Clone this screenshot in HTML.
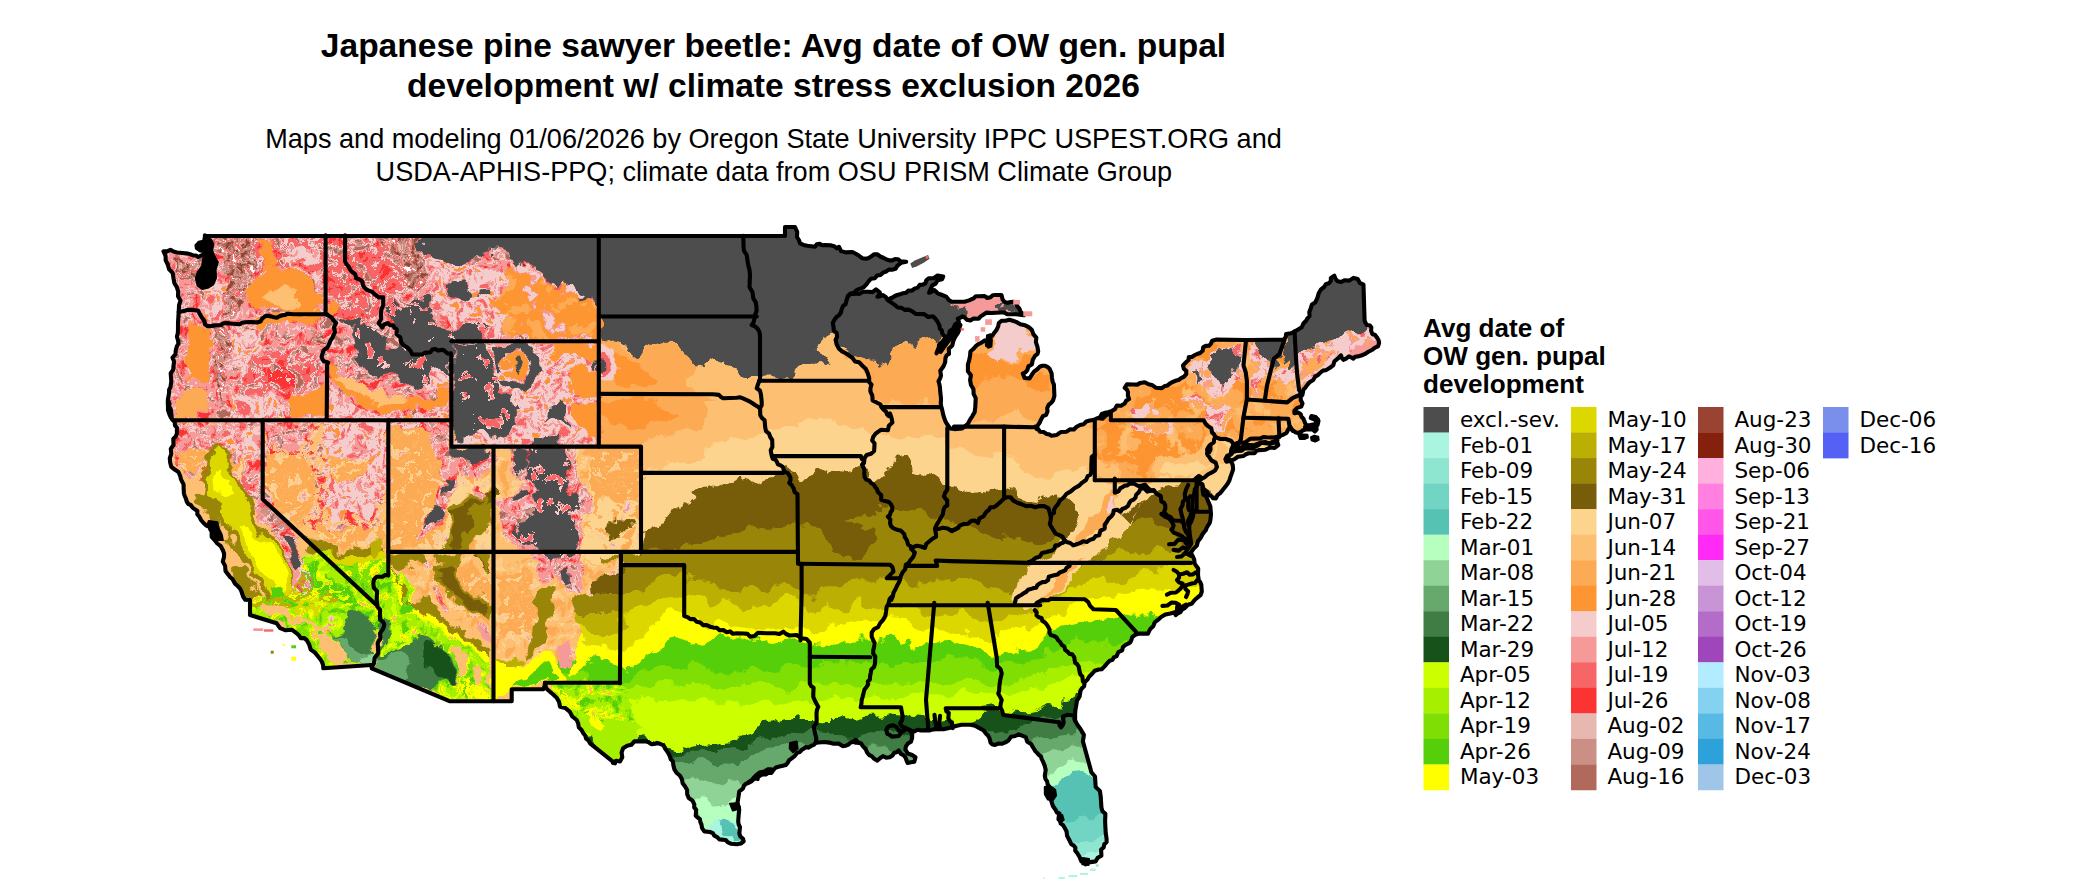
<!DOCTYPE html>
<html><head><meta charset="utf-8"><title>Japanese pine sawyer beetle map</title>
<style>
html,body{margin:0;padding:0;background:#fff;}
body{width:2100px;height:892px;overflow:hidden;position:relative;font-family:"Liberation Sans",sans-serif;}
svg{position:absolute;left:0;top:0;display:block}
.t1{font:bold 33.55px "Liberation Sans",sans-serif;fill:#000;text-anchor:middle}
.t2{font:27.1px "Liberation Sans",sans-serif;fill:#000;text-anchor:middle}
.lt{font:bold 26.1px "Liberation Sans",sans-serif;fill:#000}
.lb{font:21.5px "DejaVu Sans",sans-serif;fill:#000}
</style></head><body>
<svg width="2100" height="892" viewBox="0 0 2100 892">
<defs><clipPath id="us"><path d="M205.0,236.0 L785.0,236.0 L785.0,227.0 L795.0,227.0 L796.0,229.4 L797.2,231.8 L797.0,237.0 L798.9,240.0 L800.0,243.3 L803.5,244.9 L807.3,245.7 L815.0,246.7 L816.8,244.3 L819.7,243.9 L822.2,245.3 L825.0,245.0 L831.2,245.4 L834.3,246.2 L836.7,248.3 L839.0,246.8 L841.1,251.1 L845.7,252.4 L852.4,252.0 L855.8,253.8 L859.1,255.8 L862.1,258.2 L865.9,258.7 L868.8,257.9 L871.4,256.3 L873.9,254.4 L877.1,254.2 L880.2,256.5 L883.8,258.0 L886.5,259.3 L889.2,260.4 L892.3,260.4 L895.0,259.1 L898.1,259.2 L900.4,261.3 L906.2,261.8 L901.3,262.8 L899.2,264.2 L897.3,265.9 L895.5,268.8 L892.1,269.7 L888.8,269.6 L886.1,271.5 L883.0,272.7 L880.5,275.0 L877.1,275.6 L874.8,278.2 L871.0,278.7 L868.4,281.6 L866.3,284.6 L863.6,287.2 L861.0,288.4 L858.3,289.4 L855.6,290.9 L854.7,293.9 L850.9,293.9 L847.9,296.1 L850.0,293.8 L853.1,293.0 L859.1,293.9 L863.4,291.7 L868.1,291.7 L872.5,292.1 L876.0,289.4 L879.8,292.3 L878.8,294.6 L877.5,296.8 L880.2,296.2 L882.7,295.0 L885.7,297.0 L887.8,300.0 L890.1,298.5 L892.6,297.5 L894.8,296.0 L897.3,295.0 L900.2,294.3 L903.0,293.2 L906.2,292.8 L908.5,290.5 L911.9,290.7 L914.5,288.6 L917.7,287.6 L919.7,284.9 L922.7,284.6 L925.5,283.3 L926.3,280.3 L928.7,278.2 L933.6,278.3 L937.6,275.5 L943.2,276.4 L942.1,279.3 L937.8,280.2 L935.4,283.8 L932.3,285.3 L930.9,288.3 L929.1,292.8 L931.8,291.6 L934.3,290.1 L937.7,293.3 L942.1,295.0 L946.1,296.6 L948.8,300.0 L951.9,301.8 L955.6,301.7 L964.5,301.7 L969.1,300.4 L973.5,298.4 L975.8,296.3 L978.9,296.2 L984.7,296.1 L987.3,298.0 L990.5,297.3 L992.8,295.2 L995.9,295.0 L1001.5,295.0 L1002.6,299.5 L1004.4,301.8 L1007.1,302.9 L1010.4,302.0 L1013.9,301.7 L1016.2,303.5 L1017.2,306.2 L1019.4,308.7 L1020.6,311.8 L1023.9,315.2 L1016.1,314.3 L1007.1,314.1 L1004.0,312.5 L1000.4,312.5 L991.4,313.0 L986.6,312.6 L982.5,315.2 L980.4,316.7 L978.7,318.7 L973.5,318.6 L970.4,320.5 L966.8,319.7 L964.9,317.6 L962.3,316.3 L960.2,317.8 L957.8,318.6 L958.9,321.9 L955.0,324.4 L953.3,328.7 L949.7,331.1 L948.8,335.4 L945.5,337.6 L943.8,339.9 L942.1,342.1 L939.0,344.7 L938.7,348.8 L938.0,351.3 L936.5,353.3 L938.1,348.9 L942.1,346.6 L945.8,343.5 L948.8,339.9 L950.2,335.3 L954.4,333.1 L956.4,330.0 L959.6,328.2 L958.9,330.7 L957.8,333.1 L955.2,336.8 L953.3,341.0 L952.3,345.6 L948.8,348.8 L949.0,354.0 L946.6,355.3 L945.5,357.8 L945.1,362.5 L943.2,366.8 L940.3,370.8 L941.0,375.7 L940.0,378.6 L938.5,381.1 L939.3,384.0 L939.9,387.0 L940.3,392.6 L941.0,398.2 L940.8,403.8 L941.2,406.7 L942.1,409.4 L943.0,413.9 L944.3,418.3 L945.7,421.9 L947.7,425.1 L950.3,428.4 L954.4,429.1 L962.3,428.4 L965.1,426.2 L967.9,423.9 L969.9,419.9 L972.4,416.1 L974.7,411.9 L975.3,407.1 L975.7,398.2 L973.6,393.9 L973.5,389.2 L971.0,385.0 L970.1,380.2 L970.9,375.3 L969.4,373.2 L967.9,371.3 L967.9,364.5 L969.2,360.1 L970.1,355.6 L970.4,351.5 L973.5,348.8 L975.6,346.4 L978.0,344.3 L981.5,342.6 L984.7,340.3 L986.9,342.4 L987.0,345.5 L989.6,344.8 L990.1,337.6 L992.1,335.8 L993.7,333.6 L996.3,330.3 L998.2,326.4 L998.8,323.0 L1001.5,320.8 L1005.5,320.7 L1009.4,319.7 L1012.8,320.7 L1016.1,321.9 L1020.3,324.3 L1025.1,325.3 L1028.7,327.1 L1031.8,329.8 L1033.3,334.1 L1036.3,337.6 L1035.9,342.2 L1037.4,346.6 L1038.2,351.5 L1037.4,354.1 L1035.2,355.6 L1032.8,359.8 L1031.8,364.5 L1028.4,366.4 L1027.3,370.1 L1025.4,372.3 L1022.8,373.5 L1024.6,378.0 L1029.6,378.4 L1031.7,375.0 L1034.0,371.7 L1037.0,369.5 L1039.6,366.8 L1042.4,365.8 L1045.2,365.7 L1047.7,367.1 L1049.7,369.0 L1051.6,373.3 L1052.0,378.0 L1052.6,381.4 L1053.9,384.6 L1054.2,391.4 L1054.4,396.0 L1053.1,400.4 L1051.1,402.9 L1048.6,404.9 L1047.2,408.1 L1047.5,411.6 L1046.2,414.8 L1043.0,416.1 L1041.1,419.4 L1039.6,422.8 L1037.5,425.7 L1036.7,429.1 L1035.0,426.7 L1037.9,428.7 L1040.0,431.7 L1043.6,432.0 L1046.7,434.0 L1049.3,434.4 L1051.5,435.8 L1056.7,435.0 L1058.9,433.3 L1061.2,432.0 L1066.7,431.7 L1069.9,429.3 L1073.9,429.5 L1076.6,426.8 L1080.0,425.0 L1083.7,424.2 L1086.3,421.5 L1089.8,420.6 L1093.3,420.0 L1097.7,418.0 L1102.5,418.7 L1105.9,415.5 L1110.0,413.3 L1107.2,413.0 L1104.8,414.5 L1102.4,415.8 L1100.0,417.0 L1101.8,414.0 L1104.9,412.8 L1108.1,412.2 L1111.2,411.3 L1114.8,409.2 L1116.9,405.6 L1121.1,405.7 L1124.7,403.5 L1126.3,400.6 L1129.1,399.0 L1127.9,395.8 L1128.0,392.3 L1127.0,389.6 L1124.7,387.8 L1126.9,384.4 L1133.7,384.5 L1137.3,384.6 L1140.4,382.9 L1144.7,382.2 L1148.5,384.3 L1152.6,385.3 L1156.1,387.8 L1161.9,388.1 L1164.3,386.3 L1167.3,385.6 L1169.7,383.6 L1172.5,382.0 L1175.4,380.8 L1178.5,380.0 L1181.1,378.1 L1184.1,376.6 L1186.2,374.2 L1186.3,371.0 L1183.8,368.7 L1183.0,365.4 L1186.3,362.0 L1188.6,360.0 L1188.8,357.0 L1191.8,357.0 L1194.2,355.3 L1197.1,354.0 L1200.1,353.0 L1202.7,350.8 L1203.1,347.4 L1205.8,345.9 L1208.9,345.8 L1211.0,343.6 L1212.1,340.7 L1216.6,339.6 L1245.7,340.0 L1283.9,339.6 L1285.8,337.1 L1286.1,334.0 L1290.8,333.3 L1295.1,331.3 L1298.5,329.3 L1301.8,327.3 L1303.4,323.5 L1306.3,320.5 L1307.6,318.1 L1309.6,316.1 L1309.3,312.0 L1310.8,308.2 L1311.9,304.6 L1315.2,302.6 L1317.3,298.2 L1318.6,293.6 L1320.8,289.7 L1324.2,286.9 L1325.8,284.2 L1328.8,283.3 L1330.8,281.0 L1330.9,277.9 L1334.3,275.7 L1335.5,278.8 L1337.7,281.3 L1341.2,282.0 L1344.4,280.2 L1349.3,280.6 L1353.4,277.9 L1357.8,279.1 L1359.7,282.8 L1363.5,284.7 L1364.1,304.8 L1364.6,320.5 L1365.5,322.9 L1366.8,325.0 L1369.5,325.2 L1371.3,327.3 L1371.1,330.7 L1372.4,334.0 L1375.1,335.0 L1376.9,337.4 L1378.5,340.0 L1379.1,343.0 L1378.0,346.3 L1375.0,347.6 L1372.4,349.7 L1368.4,351.8 L1364.6,354.2 L1361.3,355.5 L1357.8,356.4 L1355.2,356.7 L1353.4,358.7 L1351.2,357.3 L1348.9,356.4 L1346.3,358.5 L1343.3,359.8 L1341.7,357.8 L1341.0,355.3 L1337.7,358.7 L1334.4,361.3 L1333.2,365.4 L1329.9,367.7 L1326.5,369.9 L1322.7,370.7 L1319.7,373.2 L1317.7,375.2 L1315.2,376.6 L1313.2,380.1 L1309.6,382.2 L1307.3,384.9 L1305.2,387.8 L1303.4,389.7 L1302.9,392.3 L1302.4,394.9 L1300.7,396.8 L1300.7,399.9 L1302.5,403.5 L1301.2,406.6 L1297.1,407.9 L1294.4,410.6 L1294.4,413.3 L1298.0,412.4 L1300.7,414.2 L1301.5,416.8 L1303.4,418.7 L1305.2,423.2 L1306.5,425.4 L1309.7,425.2 L1314.2,424.3 L1317.3,422.1 L1318.0,419.6 L1315.1,417.1 L1311.7,416.6 L1310.8,418.0 L1314.2,419.3 L1316.2,421.1 L1316.0,425.9 L1316.7,429.3 L1314.9,431.4 L1312.7,429.5 L1309.7,429.5 L1306.1,429.2 L1302.5,430.5 L1300.7,432.2 L1298.0,433.0 L1295.3,432.2 L1291.7,429.5 L1290.0,427.0 L1288.2,429.5 L1286.4,433.0 L1282.8,434.8 L1278.3,436.6 L1273.8,437.5 L1266.6,437.3 L1263.3,437.0 L1260.4,438.4 L1254.1,438.6 L1250.1,438.8 L1246.9,441.1 L1244.0,443.0 L1240.6,442.2 L1237.0,443.1 L1233.2,445.4 L1231.3,449.5 L1230.7,454.1 L1227.1,457.0 L1230.7,460.4 L1232.7,464.8 L1233.1,469.4 L1231.6,473.8 L1230.4,477.1 L1229.4,480.5 L1227.4,484.1 L1224.9,487.3 L1222.7,490.1 L1220.4,492.9 L1217.5,495.1 L1215.9,498.5 L1213.2,498.3 L1211.4,496.2 L1208.3,494.9 L1207.0,491.7 L1203.6,489.1 L1202.5,485.0 L1200.0,483.3 L1199.1,480.5 L1200.0,483.2 L1202.5,484.4 L1202.5,489.5 L1203.3,494.7 L1205.8,495.9 L1207.0,498.5 L1208.6,502.4 L1210.3,506.3 L1211.0,514.2 L1210.4,520.0 L1209.7,522.9 L1208.1,525.4 L1206.7,527.7 L1205.9,530.2 L1204.0,532.2 L1202.5,534.3 L1200.6,538.0 L1198.0,541.1 L1196.8,545.6 L1193.5,548.9 L1190.8,552.7 L1192.6,555.9 L1194.2,559.5 L1194.6,563.5 L1196.3,566.1 L1198.2,568.5 L1198.0,574.7 L1198.7,580.1 L1200.3,582.3 L1201.3,584.8 L1201.8,591.5 L1200.7,594.9 L1198.0,597.1 L1194.6,600.0 L1191.9,603.5 L1187.6,605.0 L1184.5,608.3 L1182.0,609.7 L1180.4,612.2 L1177.8,613.4 L1175.6,615.1 L1177.7,612.0 L1180.5,609.5 L1183.3,607.0 L1186.1,604.5 L1182.2,606.7 L1179.4,610.1 L1175.0,612.1 L1170.4,613.5 L1165.6,614.4 L1161.4,616.8 L1158.2,619.7 L1154.7,622.4 L1153.2,626.3 L1150.2,629.1 L1149.0,631.4 L1148.0,633.6 L1139.0,633.6 L1135.4,634.7 L1132.3,637.0 L1131.5,639.7 L1130.4,642.2 L1128.1,643.7 L1125.6,644.8 L1122.9,647.1 L1122.2,650.4 L1118.3,652.2 L1116.6,656.1 L1113.9,657.3 L1112.5,659.9 L1109.7,660.7 L1107.6,662.8 L1105.8,665.0 L1103.8,667.1 L1101.7,669.2 L1098.7,669.5 L1094.7,670.8 L1091.9,674.0 L1089.3,676.5 L1087.4,679.6 L1084.6,682.4 L1084.1,686.3 L1082.0,688.3 L1080.5,690.8 L1079.6,696.4 L1077.0,700.6 L1076.2,705.4 L1075.4,709.8 L1075.1,714.3 L1075.1,721.1 L1074.3,718.6 L1077.0,724.1 L1080.6,729.2 L1083.9,734.9 L1082.9,741.4 L1090.0,767.1 L1091.4,772.4 L1095.0,776.5 L1095.7,787.1 L1099.9,790.9 L1100.7,796.5 L1101.4,807.1 L1102.3,811.1 L1105.4,813.7 L1105.1,821.4 L1105.7,832.9 L1106.6,838.8 L1106.6,842.0 L1104.3,844.3 L1103.6,847.5 L1101.1,849.6 L1101.4,855.7 L1097.7,857.7 L1095.7,861.4 L1090.5,862.1 L1087.8,862.5 L1085.7,864.3 L1084.1,862.0 L1081.4,861.4 L1079.6,857.0 L1077.1,852.9 L1075.2,850.7 L1075.4,847.8 L1073.8,845.6 L1071.4,844.3 L1069.3,840.0 L1067.1,835.7 L1066.5,831.2 L1064.3,827.1 L1062.9,825.0 L1060.7,823.6 L1060.0,818.6 L1059.5,813.5 L1056.9,812.5 L1055.7,810.0 L1052.9,806.0 L1051.4,801.4 L1050.2,797.1 L1048.6,792.9 L1049.5,786.9 L1047.7,784.5 L1047.1,781.4 L1045.4,778.9 L1044.8,775.9 L1045.7,770.0 L1044.7,765.6 L1042.9,761.4 L1041.7,759.1 L1041.0,756.5 L1038.8,754.9 L1037.1,752.9 L1035.3,751.1 L1033.9,748.8 L1032.5,746.6 L1031.4,744.3 L1027.3,741.8 L1025.7,737.1 L1022.1,735.7 L1018.6,734.3 L1015.2,736.0 L1011.0,736.8 L1008.5,740.4 L1005.3,742.4 L1001.8,743.8 L998.3,743.6 L995.1,744.9 L992.5,744.5 L990.6,742.7 L989.5,738.2 L988.2,735.7 L986.1,733.7 L983.4,730.2 L979.4,728.1 L975.1,725.7 L970.4,724.8 L961.4,724.8 L956.9,725.8 L952.5,727.0 L948.0,728.2 L943.5,729.2 L936.8,729.2 L933.3,729.4 L930.0,730.4 L921.1,730.4 L917.5,729.7 L914.3,731.5 L909.9,730.4 L912.2,733.9 L912.1,738.2 L910.9,741.8 L907.6,743.8 L905.9,746.4 L905.4,749.4 L907.7,753.5 L912.1,755.0 L915.5,757.3 L914.3,761.7 L911.0,762.3 L907.6,762.9 L906.4,760.1 L905.4,757.3 L903.5,755.2 L900.9,753.9 L898.7,750.5 L896.7,752.3 L894.2,752.8 L892.4,755.5 L889.7,757.3 L886.2,757.6 L883.0,756.1 L880.0,758.2 L877.4,760.6 L874.2,758.8 L871.7,756.1 L869.1,755.0 L867.3,752.8 L865.6,749.0 L862.8,746.1 L861.2,743.5 L858.3,742.7 L855.4,742.6 L852.7,741.6 L850.1,742.8 L848.2,744.9 L845.4,745.7 L842.6,746.1 L838.5,743.5 L833.6,743.8 L829.2,742.6 L824.7,742.0 L815.7,742.7 L813.8,744.9 L811.2,745.9 L808.7,747.7 L805.7,747.1 L803.7,748.8 L801.5,750.1 L799.7,752.1 L797.1,752.9 L794.6,756.1 L791.4,758.6 L789.1,760.2 L787.7,762.8 L785.7,765.0 L782.9,765.7 L779.4,766.6 L776.0,767.4 L773.5,769.9 L771.4,772.9 L768.4,772.8 L765.8,774.4 L762.7,774.3 L760.0,775.7 L757.8,777.1 L755.6,778.4 L753.2,779.5 L751.4,781.4 L748.8,782.8 L746.0,783.7 L743.9,785.8 L742.9,788.6 L739.3,791.3 L738.6,795.7 L738.0,800.0 L737.1,804.3 L738.8,806.8 L739.2,809.8 L738.6,815.7 L738.2,821.6 L738.7,824.5 L740.0,827.1 L739.3,833.4 L740.3,836.5 L742.9,838.6 L743.7,841.4 L740.8,843.6 L737.1,844.3 L730.8,843.7 L727.9,842.4 L725.7,840.0 L719.4,839.4 L717.2,837.1 L714.3,835.7 L712.8,833.1 L710.0,832.0 L704.3,831.4 L702.1,828.2 L701.4,824.3 L700.3,821.8 L699.9,819.1 L697.7,817.5 L695.7,815.7 L696.2,809.9 L694.2,807.4 L694.3,804.3 L692.4,800.4 L688.7,798.1 L687.2,794.2 L687.1,790.0 L685.1,786.5 L682.7,783.3 L681.9,779.3 L680.0,775.7 L676.8,773.0 L674.5,769.6 L673.4,765.5 L672.9,761.4 L670.8,759.3 L669.9,756.5 L668.7,753.8 L667.1,751.4 L665.1,748.6 L663.6,745.5 L660.4,744.0 L657.1,742.9 L654.3,744.0 L651.2,744.1 L648.6,742.3 L645.7,741.4 L634.3,741.4 L631.4,744.8 L627.1,745.7 L623.1,748.2 L621.6,752.7 L622.3,757.3 L620.0,761.4 L616.2,760.8 L612.9,762.9 L615.0,763.3 L590.0,743.3 L588.6,740.6 L586.1,738.7 L585.3,735.7 L583.3,733.3 L581.5,729.9 L578.8,727.3 L578.2,723.5 L576.7,720.0 L572.3,716.5 L569.7,711.6 L565.4,708.1 L560.0,706.7 L559.1,702.1 L556.8,697.9 L553.5,694.7 L550.0,691.7 L548.0,689.9 L546.0,688.0 L545.0,682.7 L544.6,686.1 L543.3,689.3 L511.7,689.3 L511.7,701.3 L491.7,701.3 L450.0,701.3 L371.7,668.3 L371.7,665.0 L323.3,668.3 L323.1,665.1 L322.0,662.0 L320.3,659.2 L318.3,656.7 L315.0,652.6 L310.7,649.6 L309.2,644.6 L306.7,640.0 L304.0,638.0 L300.7,638.1 L299.0,635.4 L296.7,633.3 L291.8,629.7 L285.7,630.3 L280.1,628.2 L276.7,623.3 L250.0,615.0 L250.0,600.0 L245.3,599.8 L243.1,596.5 L241.9,592.8 L240.9,590.1 L239.4,587.7 L237.4,585.7 L235.2,583.9 L233.7,581.4 L232.4,578.9 L230.1,577.2 L228.5,574.9 L225.5,570.9 L225.1,565.9 L222.8,561.6 L224.0,557.0 L224.1,553.5 L222.9,550.2 L220.8,546.2 L217.3,543.5 L214.6,540.0 L211.7,536.8 L211.6,531.5 L210.2,529.2 L209.4,526.7 L206.3,525.6 L203.8,523.3 L201.2,520.2 L199.3,516.6 L197.3,514.2 L197.4,511.0 L195.0,509.3 L192.6,507.6 L190.9,505.2 L188.2,503.9 L186.7,501.4 L185.9,498.7 L184.7,496.0 L183.9,493.2 L183.6,487.4 L183.6,484.4 L182.2,481.8 L180.9,479.1 L180.3,476.2 L178.5,472.0 L174.7,469.5 L171.3,466.9 L170.2,462.8 L169.8,458.2 L171.3,453.8 L170.8,448.9 L173.5,444.8 L173.3,438.7 L175.7,436.6 L176.9,433.6 L176.9,427.8 L175.0,425.4 L174.7,422.4 L171.8,418.4 L171.3,413.5 L170.9,409.9 L169.1,406.8 L169.5,403.3 L167.9,400.0 L168.0,410.4 L169.8,415.3 L172.4,419.8 L170.7,417.2 L169.5,414.4 L170.2,408.3 L167.8,404.2 L167.9,399.4 L168.6,396.0 L169.1,392.6 L169.1,389.7 L170.5,387.1 L171.3,381.4 L170.7,373.3 L173.1,369.9 L173.5,365.7 L174.1,361.5 L172.5,357.6 L175.4,354.4 L175.8,350.0 L176.8,346.6 L178.5,343.5 L177.9,340.0 L176.9,336.6 L177.8,333.3 L178.0,329.9 L178.0,323.1 L178.7,311.9 L179.1,305.2 L180.5,300.5 L178.0,296.2 L178.2,291.7 L176.9,287.3 L174.4,283.1 L173.5,278.3 L172.7,273.1 L170.9,271.2 L169.1,269.3 L167.8,264.7 L165.7,260.4 L165.5,255.7 L163.5,251.4 L167.1,251.4 L170.4,249.8 L173.4,251.6 L176.9,252.5 L182.5,253.0 L188.1,253.6 L190.7,254.4 L193.1,255.4 L195.9,255.5 L198.2,257.0 L201.6,255.4 L204.9,253.6 L204.9,235.2ZM1225.4,459.1 L1227.2,455.7 L1230.8,454.6 L1233.0,452.1 L1236.1,451.0 L1241.8,450.6 L1244.0,448.7 L1246.9,448.3 L1252.7,448.7 L1254.9,446.6 L1257.7,445.6 L1260.0,443.8 L1262.6,442.3 L1265.7,442.0 L1268.4,443.4 L1277.4,442.5 L1278.3,445.2 L1274.7,448.0 L1270.2,447.4 L1267.7,448.7 L1265.1,449.8 L1259.5,450.1 L1256.5,450.8 L1254.5,453.1 L1248.7,453.2 L1245.9,454.2 L1243.6,456.0 L1237.9,456.8 L1234.2,459.4 L1229.9,460.9 L1226.3,461.7ZM1237.0,442.9 L1246.9,441.1 L1260.4,438.4 L1277.4,437.5 L1278.3,443.8 L1257.7,448.3 L1237.9,454.6 L1230.8,459.1 L1229.0,456.4Z"/></clipPath>
<filter id="rough" x="100" y="200" width="1350" height="692" filterUnits="userSpaceOnUse" color-interpolation-filters="sRGB">
<feTurbulence type="fractalNoise" baseFrequency="0.045" numOctaves="4" seed="7" result="n"/>
<feDisplacementMap in="SourceGraphic" in2="n" scale="22" xChannelSelector="R" yChannelSelector="G"/>
</filter>
<filter id="texnw" x="100" y="200" width="560" height="430" filterUnits="userSpaceOnUse" color-interpolation-filters="sRGB">
<feTurbulence type="fractalNoise" baseFrequency="0.11" numOctaves="4" seed="11" result="t"/>
<feColorMatrix in="t" type="matrix" values="1 0 0 0 0  1 0 0 0 0  1 0 0 0 0  1 0 0 0 0" result="m"/>
<feComponentTransfer in="m" result="c"><feFuncR type="discrete" tableValues="0.988 0.988 0.988 0.988 0.988 0.988 0.988 0.988 0.988 0.988 0.988 0.988 0.969 0.969 0.969 0.969 0.000 0.000 0.000 0.000 0.000 0.000 0.957 0.957 0.957 0.961 0.796 0.796 0.796 0.694 0.694 0.694 0.694 0.694 0.694 0.694 0.694 0.694 0.694 0.694"/><feFuncG type="discrete" tableValues="0.200 0.200 0.200 0.200 0.200 0.200 0.200 0.200 0.200 0.200 0.200 0.200 0.400 0.400 0.400 0.400 0.000 0.000 0.000 0.000 0.000 0.000 0.800 0.800 0.800 0.600 0.561 0.561 0.561 0.412 0.412 0.412 0.412 0.412 0.412 0.412 0.412 0.412 0.412 0.412"/><feFuncB type="discrete" tableValues="0.200 0.200 0.200 0.200 0.200 0.200 0.200 0.200 0.200 0.200 0.200 0.200 0.400 0.400 0.400 0.400 0.000 0.000 0.000 0.000 0.000 0.000 0.800 0.800 0.800 0.600 0.522 0.522 0.522 0.357 0.357 0.357 0.357 0.357 0.357 0.357 0.357 0.357 0.357 0.357"/><feFuncA type="discrete" tableValues="1.000 1.000 1.000 1.000 1.000 1.000 1.000 1.000 1.000 1.000 1.000 1.000 1.000 1.000 1.000 1.000 0.000 0.000 0.000 0.000 0.000 0.000 1.000 1.000 1.000 1.000 1.000 1.000 1.000 1.000 1.000 1.000 1.000 1.000 1.000 1.000 1.000 1.000 1.000 1.000"/></feComponentTransfer>
<feComposite in="c" in2="SourceGraphic" operator="in"/>
</filter><filter id="texsw" x="150" y="400" width="500" height="320" filterUnits="userSpaceOnUse" color-interpolation-filters="sRGB">
<feTurbulence type="fractalNoise" baseFrequency="0.09" numOctaves="4" seed="5" result="t"/>
<feColorMatrix in="t" type="matrix" values="1 0 0 0 0  1 0 0 0 0  1 0 0 0 0  1 0 0 0 0" result="m"/>
<feComponentTransfer in="m" result="c"><feFuncR type="discrete" tableValues="0.992 0.992 0.992 0.992 0.992 0.992 0.992 0.992 0.992 0.992 0.992 0.992 0.992 0.992 0.992 0.992 0.000 0.000 0.000 0.000 0.000 0.000 0.000 0.000 0.992 0.992 0.992 0.992 0.992 0.992 0.957 0.957 0.961 0.961 0.961 0.961 0.961 0.961 0.961 0.961"/><feFuncG type="discrete" tableValues="0.667 0.667 0.667 0.667 0.667 0.667 0.667 0.667 0.667 0.667 0.667 0.667 0.667 0.667 0.706 0.706 0.000 0.000 0.000 0.000 0.000 0.000 0.000 0.000 0.831 0.831 0.831 0.788 0.788 0.788 0.800 0.800 0.600 0.600 0.600 0.600 0.600 0.600 0.600 0.600"/><feFuncB type="discrete" tableValues="0.333 0.333 0.333 0.333 0.333 0.333 0.333 0.333 0.333 0.333 0.333 0.333 0.333 0.333 0.388 0.388 0.000 0.000 0.000 0.000 0.000 0.000 0.000 0.000 0.557 0.557 0.557 0.533 0.533 0.533 0.800 0.800 0.600 0.600 0.600 0.600 0.600 0.600 0.600 0.600"/><feFuncA type="discrete" tableValues="1.000 1.000 1.000 1.000 1.000 1.000 1.000 1.000 1.000 1.000 1.000 1.000 1.000 1.000 1.000 1.000 0.000 0.000 0.000 0.000 0.000 0.000 0.000 0.000 1.000 1.000 1.000 1.000 1.000 1.000 1.000 1.000 1.000 1.000 1.000 1.000 1.000 1.000 1.000 1.000"/></feComponentTransfer>
<feComposite in="c" in2="SourceGraphic" operator="in"/>
</filter><filter id="texgr" x="150" y="400" width="500" height="320" filterUnits="userSpaceOnUse" color-interpolation-filters="sRGB">
<feTurbulence type="fractalNoise" baseFrequency="0.1" numOctaves="4" seed="9" result="t"/>
<feColorMatrix in="t" type="matrix" values="1 0 0 0 0  1 0 0 0 0  1 0 0 0 0  1 0 0 0 0" result="m"/>
<feComponentTransfer in="m" result="c"><feFuncR type="discrete" tableValues="0.333 0.333 0.333 0.333 0.333 0.333 0.333 0.333 0.333 0.333 0.333 0.333 0.333 0.498 0.498 0.498 0.000 0.000 0.000 0.000 0.000 0.000 0.000 0.800 0.800 0.800 1.000 1.000 0.867 0.867 0.992 0.992 0.992 0.992 0.992 0.992 0.992 0.992 0.992 0.992"/><feFuncG type="discrete" tableValues="0.812 0.812 0.812 0.812 0.812 0.812 0.812 0.812 0.812 0.812 0.812 0.812 0.812 0.875 0.875 0.875 0.000 0.000 0.000 0.000 0.000 0.000 0.000 1.000 1.000 1.000 1.000 1.000 0.843 0.843 0.749 0.749 0.749 0.749 0.749 0.749 0.749 0.749 0.749 0.749"/><feFuncB type="discrete" tableValues="0.039 0.039 0.039 0.039 0.039 0.039 0.039 0.039 0.039 0.039 0.039 0.039 0.039 0.020 0.020 0.020 0.000 0.000 0.000 0.000 0.000 0.000 0.000 0.000 0.000 0.000 0.000 0.000 0.000 0.000 0.447 0.447 0.447 0.447 0.447 0.447 0.447 0.447 0.447 0.447"/><feFuncA type="discrete" tableValues="1.000 1.000 1.000 1.000 1.000 1.000 1.000 1.000 1.000 1.000 1.000 1.000 1.000 1.000 1.000 1.000 0.000 0.000 0.000 0.000 0.000 0.000 0.000 1.000 1.000 1.000 1.000 1.000 1.000 1.000 1.000 1.000 1.000 1.000 1.000 1.000 1.000 1.000 1.000 1.000"/></feComponentTransfer>
<feComposite in="c" in2="SourceGraphic" operator="in"/>
</filter><filter id="texg" x="100" y="200" width="560" height="430" filterUnits="userSpaceOnUse" color-interpolation-filters="sRGB">
<feTurbulence type="fractalNoise" baseFrequency="0.07" numOctaves="4" seed="31" result="t"/>
<feColorMatrix in="t" type="matrix" values="1 0 0 0 0  1 0 0 0 0  1 0 0 0 0  1 0 0 0 0" result="m"/>
<feComponentTransfer in="m" result="c"><feFuncR type="discrete" tableValues="0.969 0.969 0.969 0.969 0.969 0.969 0.969 0.969 0.969 0.969 0.969 0.969 0.961 0.957 0.000 0.000 0.000 0.000 0.000 0.000 0.000 0.000 0.000 0.000 0.000 0.000 0.000 0.000 0.000 0.000 0.000 0.000 0.000 0.000 0.000 0.000 0.000 0.000 0.000 0.000"/><feFuncG type="discrete" tableValues="0.400 0.400 0.400 0.400 0.400 0.400 0.400 0.400 0.400 0.400 0.400 0.400 0.600 0.800 0.000 0.000 0.000 0.000 0.000 0.000 0.000 0.000 0.000 0.000 0.000 0.000 0.000 0.000 0.000 0.000 0.000 0.000 0.000 0.000 0.000 0.000 0.000 0.000 0.000 0.000"/><feFuncB type="discrete" tableValues="0.400 0.400 0.400 0.400 0.400 0.400 0.400 0.400 0.400 0.400 0.400 0.400 0.600 0.800 0.000 0.000 0.000 0.000 0.000 0.000 0.000 0.000 0.000 0.000 0.000 0.000 0.000 0.000 0.000 0.000 0.000 0.000 0.000 0.000 0.000 0.000 0.000 0.000 0.000 0.000"/><feFuncA type="discrete" tableValues="1.000 1.000 1.000 1.000 1.000 1.000 1.000 1.000 1.000 1.000 1.000 1.000 1.000 1.000 0.000 0.000 0.000 0.000 0.000 0.000 0.000 0.000 0.000 0.000 0.000 0.000 0.000 0.000 0.000 0.000 0.000 0.000 0.000 0.000 0.000 0.000 0.000 0.000 0.000 0.000"/></feComponentTransfer>
<feComposite in="c" in2="SourceGraphic" operator="in"/>
</filter><filter id="texo" x="100" y="200" width="560" height="430" filterUnits="userSpaceOnUse" color-interpolation-filters="sRGB">
<feTurbulence type="fractalNoise" baseFrequency="0.05" numOctaves="4" seed="41" result="t"/>
<feColorMatrix in="t" type="matrix" values="1 0 0 0 0  1 0 0 0 0  1 0 0 0 0  1 0 0 0 0" result="m"/>
<feComponentTransfer in="m" result="c"><feFuncR type="discrete" tableValues="0.957 0.957 0.957 0.957 0.957 0.957 0.957 0.957 0.957 0.957 0.957 0.957 0.957 0.961 0.961 0.000 0.000 0.000 0.000 0.000 0.000 0.000 0.000 0.000 0.000 0.992 0.992 0.992 0.992 0.992 0.992 0.992 0.992 0.992 0.992 0.992 0.992 0.992 0.992 0.992"/><feFuncG type="discrete" tableValues="0.800 0.800 0.800 0.800 0.800 0.800 0.800 0.800 0.800 0.800 0.800 0.800 0.800 0.600 0.600 0.000 0.000 0.000 0.000 0.000 0.000 0.000 0.000 0.000 0.000 0.667 0.667 0.667 0.667 0.667 0.667 0.667 0.667 0.667 0.667 0.667 0.667 0.667 0.667 0.667"/><feFuncB type="discrete" tableValues="0.800 0.800 0.800 0.800 0.800 0.800 0.800 0.800 0.800 0.800 0.800 0.800 0.800 0.600 0.600 0.000 0.000 0.000 0.000 0.000 0.000 0.000 0.000 0.000 0.000 0.333 0.333 0.333 0.333 0.333 0.333 0.333 0.333 0.333 0.333 0.333 0.333 0.333 0.333 0.333"/><feFuncA type="discrete" tableValues="1.000 1.000 1.000 1.000 1.000 1.000 1.000 1.000 1.000 1.000 1.000 1.000 1.000 1.000 1.000 0.000 0.000 0.000 0.000 0.000 0.000 0.000 0.000 0.000 0.000 1.000 1.000 1.000 1.000 1.000 1.000 1.000 1.000 1.000 1.000 1.000 1.000 1.000 1.000 1.000"/></feComponentTransfer>
<feComposite in="c" in2="SourceGraphic" operator="in"/>
</filter><filter id="texbr" x="100" y="200" width="560" height="430" filterUnits="userSpaceOnUse" color-interpolation-filters="sRGB">
<feTurbulence type="fractalNoise" baseFrequency="0.16" numOctaves="3" seed="77" result="t"/>
<feColorMatrix in="t" type="matrix" values="1 0 0 0 0  1 0 0 0 0  1 0 0 0 0  1 0 0 0 0" result="m"/>
<feComponentTransfer in="m" result="c"><feFuncR type="discrete" tableValues="0.600 0.600 0.600 0.600 0.600 0.600 0.600 0.600 0.600 0.600 0.600 0.600 0.600 0.600 0.694 0.694 0.694 0.694 0.796 0.796 0.796 0.796 0.902 0.902 0.969 0.969 0.969 0.961 0.961 1.000 1.000 1.000 1.000 1.000 1.000 1.000 1.000 1.000 1.000 1.000"/><feFuncG type="discrete" tableValues="0.267 0.267 0.267 0.267 0.267 0.267 0.267 0.267 0.267 0.267 0.267 0.267 0.267 0.267 0.412 0.412 0.412 0.412 0.561 0.561 0.561 0.561 0.722 0.722 0.400 0.400 0.400 0.600 0.600 1.000 1.000 1.000 1.000 1.000 1.000 1.000 1.000 1.000 1.000 1.000"/><feFuncB type="discrete" tableValues="0.200 0.200 0.200 0.200 0.200 0.200 0.200 0.200 0.200 0.200 0.200 0.200 0.200 0.200 0.357 0.357 0.357 0.357 0.522 0.522 0.522 0.522 0.686 0.686 0.400 0.400 0.400 0.600 0.600 1.000 1.000 1.000 1.000 1.000 1.000 1.000 1.000 1.000 1.000 1.000"/><feFuncA type="discrete" tableValues="1.000 1.000 1.000 1.000 1.000 1.000 1.000 1.000 1.000 1.000 1.000 1.000 1.000 1.000 1.000 1.000 1.000 1.000 1.000 1.000 1.000 1.000 1.000 1.000 1.000 1.000 1.000 1.000 1.000 1.000 1.000 1.000 1.000 1.000 1.000 1.000 1.000 1.000 1.000 1.000"/></feComponentTransfer>
<feComposite in="c" in2="SourceGraphic" operator="in"/>
</filter><filter id="texneo" x="1080" y="290" width="330" height="230" filterUnits="userSpaceOnUse" color-interpolation-filters="sRGB">
<feTurbulence type="fractalNoise" baseFrequency="0.06" numOctaves="4" seed="51" result="t"/>
<feColorMatrix in="t" type="matrix" values="1 0 0 0 0  1 0 0 0 0  1 0 0 0 0  1 0 0 0 0" result="m"/>
<feComponentTransfer in="m" result="c"><feFuncR type="discrete" tableValues="0.992 0.992 0.992 0.992 0.992 0.992 0.992 0.992 0.992 0.992 0.992 0.992 0.992 0.992 0.992 0.992 0.000 0.000 0.000 0.000 0.000 0.000 0.000 0.000 0.992 0.992 0.992 0.992 0.992 0.992 0.992 0.992 0.992 0.992 0.992 0.992 0.992 0.992 0.992 0.992"/><feFuncG type="discrete" tableValues="0.584 0.584 0.584 0.584 0.584 0.584 0.584 0.584 0.584 0.584 0.584 0.584 0.584 0.584 0.584 0.584 0.000 0.000 0.000 0.000 0.000 0.000 0.000 0.000 0.706 0.706 0.706 0.749 0.749 0.749 0.749 0.749 0.749 0.749 0.749 0.749 0.749 0.749 0.749 0.749"/><feFuncB type="discrete" tableValues="0.200 0.200 0.200 0.200 0.200 0.200 0.200 0.200 0.200 0.200 0.200 0.200 0.200 0.200 0.200 0.200 0.000 0.000 0.000 0.000 0.000 0.000 0.000 0.000 0.388 0.388 0.388 0.447 0.447 0.447 0.447 0.447 0.447 0.447 0.447 0.447 0.447 0.447 0.447 0.447"/><feFuncA type="discrete" tableValues="1.000 1.000 1.000 1.000 1.000 1.000 1.000 1.000 1.000 1.000 1.000 1.000 1.000 1.000 1.000 1.000 0.000 0.000 0.000 0.000 0.000 0.000 0.000 0.000 1.000 1.000 1.000 1.000 1.000 1.000 1.000 1.000 1.000 1.000 1.000 1.000 1.000 1.000 1.000 1.000"/></feComponentTransfer>
<feComposite in="c" in2="SourceGraphic" operator="in"/>
</filter><filter id="texnep" x="1080" y="290" width="330" height="230" filterUnits="userSpaceOnUse" color-interpolation-filters="sRGB">
<feTurbulence type="fractalNoise" baseFrequency="0.09" numOctaves="4" seed="61" result="t"/>
<feColorMatrix in="t" type="matrix" values="1 0 0 0 0  1 0 0 0 0  1 0 0 0 0  1 0 0 0 0" result="m"/>
<feComponentTransfer in="m" result="c"><feFuncR type="discrete" tableValues="0.992 0.992 0.992 0.992 0.992 0.992 0.992 0.992 0.992 0.992 0.992 0.992 0.992 0.992 0.961 0.961 0.000 0.000 0.000 0.000 0.000 0.000 0.000 0.000 0.000 0.000 0.961 0.961 0.969 0.969 0.969 0.969 0.969 0.969 0.969 0.969 0.969 0.969 0.969 0.969"/><feFuncG type="discrete" tableValues="0.667 0.667 0.667 0.667 0.667 0.667 0.667 0.667 0.667 0.667 0.667 0.667 0.667 0.667 0.600 0.600 0.000 0.000 0.000 0.000 0.000 0.000 0.000 0.000 0.000 0.000 0.600 0.600 0.400 0.400 0.400 0.400 0.400 0.400 0.400 0.400 0.400 0.400 0.400 0.400"/><feFuncB type="discrete" tableValues="0.333 0.333 0.333 0.333 0.333 0.333 0.333 0.333 0.333 0.333 0.333 0.333 0.333 0.333 0.600 0.600 0.000 0.000 0.000 0.000 0.000 0.000 0.000 0.000 0.000 0.000 0.600 0.600 0.400 0.400 0.400 0.400 0.400 0.400 0.400 0.400 0.400 0.400 0.400 0.400"/><feFuncA type="discrete" tableValues="1.000 1.000 1.000 1.000 1.000 1.000 1.000 1.000 1.000 1.000 1.000 1.000 1.000 1.000 1.000 1.000 0.000 0.000 0.000 0.000 0.000 0.000 0.000 0.000 0.000 0.000 1.000 1.000 1.000 1.000 1.000 1.000 1.000 1.000 1.000 1.000 1.000 1.000 1.000 1.000"/></feComponentTransfer>
<feComposite in="c" in2="SourceGraphic" operator="in"/>
</filter><filter id="texl" x="100" y="200" width="520" height="350" filterUnits="userSpaceOnUse" color-interpolation-filters="sRGB">
<feTurbulence type="fractalNoise" baseFrequency="0.11" numOctaves="4" seed="23" result="t"/>
<feColorMatrix in="t" type="matrix" values="1 0 0 0 0  1 0 0 0 0  1 0 0 0 0  1 0 0 0 0" result="m"/>
<feComponentTransfer in="m" result="c"><feFuncR type="discrete" tableValues="0.969 0.969 0.969 0.969 0.969 0.969 0.969 0.969 0.969 0.969 0.969 0.969 0.969 0.961 0.961 0.961 0.961 0.000 0.000 0.000 0.000 0.000 0.000 0.000 0.000 0.961 0.961 0.992 0.992 0.992 0.992 0.992 0.992 0.992 0.992 0.992 0.992 0.992 0.992 0.992"/><feFuncG type="discrete" tableValues="0.400 0.400 0.400 0.400 0.400 0.400 0.400 0.400 0.400 0.400 0.400 0.400 0.400 0.600 0.600 0.600 0.600 0.000 0.000 0.000 0.000 0.000 0.000 0.000 0.000 0.600 0.600 0.584 0.584 0.584 0.584 0.584 0.584 0.584 0.584 0.584 0.584 0.584 0.584 0.584"/><feFuncB type="discrete" tableValues="0.400 0.400 0.400 0.400 0.400 0.400 0.400 0.400 0.400 0.400 0.400 0.400 0.400 0.600 0.600 0.600 0.600 0.000 0.000 0.000 0.000 0.000 0.000 0.000 0.000 0.600 0.600 0.200 0.200 0.200 0.200 0.200 0.200 0.200 0.200 0.200 0.200 0.200 0.200 0.200"/><feFuncA type="discrete" tableValues="1.000 1.000 1.000 1.000 1.000 1.000 1.000 1.000 1.000 1.000 1.000 1.000 1.000 1.000 1.000 1.000 1.000 0.000 0.000 0.000 0.000 0.000 0.000 0.000 0.000 1.000 1.000 1.000 1.000 1.000 1.000 1.000 1.000 1.000 1.000 1.000 1.000 1.000 1.000 1.000"/></feComponentTransfer>
<feComposite in="c" in2="SourceGraphic" operator="in"/>
</filter>
</defs>
<rect width="2100" height="892" fill="#fff"/>
<g clip-path="url(#us)"><g filter="url(#rough)">
<path d="M0.0,0.0 L2100.0,0.0 L2100.0,892.0 L0.0,892.0Z" fill="#fdbf72"/>
<path d="M560.0,950.0 L560.0,471.4 L641.2,471.4 L661.4,466.7 L685.2,461.9 L699.5,457.1 L713.8,442.9 L728.1,435.7 L744.8,433.3 L756.7,435.7 L766.2,433.3 L771.0,433.3 L780.5,429.8 L787.6,423.8 L794.8,426.2 L804.3,419.0 L816.2,416.7 L828.1,419.0 L840.0,423.8 L851.9,426.2 L863.8,428.6 L875.7,431.0 L885.2,428.6 L887.6,433.3 L899.5,435.7 L911.4,438.1 L923.3,433.3 L935.2,435.7 L944.8,438.1 L947.1,452.4 L959.0,447.6 L971.0,450.0 L982.9,452.4 L994.8,454.8 L1004.3,452.4 L1006.7,452.4 L1018.6,461.9 L1004.8,454.3 L1014.3,463.8 L1033.3,473.3 L1052.4,475.7 L1066.7,471.0 L1085.7,466.2 L1092.9,478.1 L1095.2,480.0 L1192.9,480.0 L1204.8,463.8 L1211.9,454.3 L1216.7,444.8 L1231.0,435.2 L1450.0,435.2 L1450.0,950.0Z" fill="#fdd48e"/>
<path d="M640.0,950.0 L640.0,555.0 L641.2,545.2 L644.8,531.0 L661.4,523.8 L671.0,511.9 L685.2,507.1 L694.8,500.0 L692.4,490.5 L701.9,488.1 L713.8,485.7 L723.3,478.6 L732.9,481.0 L744.8,476.2 L756.7,481.0 L766.2,476.2 L778.1,473.8 L782.9,466.7 L787.6,471.4 L794.8,476.2 L799.5,481.0 L809.0,476.2 L818.6,469.0 L828.1,476.2 L840.0,478.6 L851.9,471.4 L861.4,466.7 L866.2,471.4 L871.0,476.2 L875.7,481.0 L880.5,476.2 L890.0,466.7 L899.5,459.5 L904.3,457.1 L909.0,464.3 L918.6,469.0 L928.1,471.4 L937.6,476.2 L944.8,481.0 L947.1,481.0 L954.3,485.7 L961.4,490.5 L971.0,492.9 L980.5,497.6 L990.0,490.5 L999.5,490.5 L1006.7,488.1 L1014.3,490.0 L1023.8,499.5 L1033.3,501.9 L1042.9,497.1 L1052.4,494.8 L1061.9,492.4 L1071.4,499.5 L1076.2,506.7 L1114.3,501.9 L1152.4,494.8 L1161.9,487.6 L1173.8,485.2 L1185.7,482.9 L1197.6,480.5 L1207.1,487.6 L1209.5,499.5 L1233.3,499.5 L1450.0,499.5 L1450.0,950.0Z" fill="#775d0a"/>
<path d="M600.0,950.0 L600.0,556.0 L640.0,552.0 L700.0,548.0 L730.0,535.0 L760.0,528.0 L800.0,524.0 L830.0,528.0 L860.0,515.0 L880.0,508.0 L900.0,508.0 L920.0,512.0 L936.0,514.0 L950.0,520.0 L970.0,526.0 L1000.0,536.0 L1030.0,542.0 L1050.0,545.0 L1062.0,538.0 L1097.0,552.0 L1110.0,540.0 L1124.0,528.0 L1138.0,521.0 L1152.0,518.0 L1162.0,523.0 L1174.0,535.0 L1186.0,542.0 L1300.0,545.0 L1300.0,950.0Z" fill="#998508"/>
<path d="M560.0,950.0 L560.0,611.9 L590.0,611.9 L604.3,616.7 L621.0,614.3 L622.1,592.9 L641.9,591.0 L651.7,581.4 L663.1,574.3 L681.9,571.9 L690.0,578.6 L701.9,581.0 L713.8,578.6 L723.3,588.1 L737.6,592.9 L751.9,585.7 L766.2,588.1 L780.5,583.3 L797.1,585.7 L804.3,590.5 L816.2,595.2 L828.1,588.1 L840.0,590.5 L851.9,583.3 L863.8,581.0 L875.7,578.6 L887.6,576.2 L899.5,578.6 L911.4,581.0 L923.3,583.3 L935.2,578.6 L947.1,581.0 L961.4,578.6 L975.7,581.0 L990.0,585.7 L1004.3,590.5 L1013.8,595.2 L1023.8,592.4 L1090.5,563.8 L1102.4,556.7 L1114.3,551.9 L1128.6,554.3 L1142.9,551.9 L1157.1,547.1 L1171.4,551.9 L1185.7,554.3 L1192.9,556.7 L1233.3,556.7 L1233.3,950.0Z" fill="#bbaf04"/>
<path d="M560.0,950.0 L560.0,633.3 L590.0,633.3 L604.3,636.9 L621.0,633.3 L622.1,621.4 L632.4,615.7 L644.0,610.0 L655.5,602.4 L666.9,595.2 L681.9,593.3 L700.0,597.1 L713.8,604.8 L728.1,600.0 L742.4,607.1 L756.7,602.4 L771.0,604.8 L785.2,597.6 L797.1,600.0 L801.9,604.8 L816.2,611.9 L828.1,604.8 L842.4,609.5 L856.7,602.4 L871.0,604.8 L882.9,607.1 L892.4,604.8 L906.7,607.1 L923.3,611.9 L932.9,614.3 L947.1,611.9 L961.4,614.3 L975.7,619.0 L990.0,623.8 L1004.3,619.0 L1018.6,614.3 L1032.9,611.9 L1042.4,607.1 L1066.7,587.6 L1081.0,582.9 L1095.2,580.5 L1109.5,582.9 L1123.8,580.5 L1138.1,575.7 L1152.4,573.3 L1166.7,571.0 L1181.0,568.6 L1195.2,568.6 L1233.3,568.6 L1233.3,950.0Z" fill="#ddd700"/>
<path d="M560.0,950.0 L560.0,642.9 L590.0,642.9 L604.3,645.2 L621.0,652.4 L622.1,652.4 L632.9,644.0 L644.0,633.3 L655.5,620.2 L666.9,614.3 L681.9,613.8 L689.8,619.0 L700.0,621.9 L704.3,626.2 L718.6,623.8 L732.9,628.6 L747.1,628.6 L761.4,633.3 L775.7,628.6 L787.6,626.2 L799.5,631.0 L811.4,633.3 L823.3,628.6 L837.6,626.2 L851.9,621.4 L866.2,619.0 L880.5,621.4 L887.6,614.3 L899.5,619.0 L913.8,623.8 L928.1,628.6 L940.0,631.0 L954.3,633.3 L968.6,633.3 L982.9,638.1 L994.8,640.5 L1009.0,633.3 L1023.3,628.6 L1037.6,621.4 L1051.9,616.7 L1066.2,609.5 L1080.5,604.8 L1090.5,597.1 L1104.8,597.1 L1119.0,594.8 L1133.3,592.4 L1147.6,590.0 L1161.9,587.6 L1176.2,585.2 L1190.5,582.9 L1200.0,582.9 L1233.3,582.9 L1233.3,950.0Z" fill="#ffff00"/>
<path d="M560.0,950.0 L560.0,657.1 L590.0,657.1 L604.3,659.5 L618.6,670.2 L622.1,669.5 L632.4,663.8 L644.0,656.0 L655.5,646.4 L666.9,641.0 L678.3,638.8 L689.8,642.4 L704.3,641.0 L713.8,635.7 L728.1,642.9 L742.4,640.5 L756.7,640.5 L771.0,642.9 L787.6,640.5 L804.3,640.5 L809.0,642.9 L823.3,645.2 L837.6,642.9 L851.9,640.5 L866.2,640.5 L875.7,642.9 L890.0,640.5 L899.5,647.6 L913.8,642.9 L928.1,640.5 L942.4,645.2 L956.7,642.9 L971.0,645.2 L985.2,652.4 L999.5,654.8 L1013.8,652.4 L1028.1,645.2 L1042.4,638.1 L1056.7,633.3 L1071.0,626.2 L1090.0,621.4 L1100.0,618.6 L1114.3,616.2 L1128.6,613.8 L1138.1,611.4 L1152.4,613.8 L1161.9,616.2 L1176.2,613.8 L1209.5,613.8 L1209.5,950.0Z" fill="#55cf0a"/>
<path d="M560.0,950.0 L560.0,671.4 L590.0,671.4 L604.3,681.0 L619.8,683.3 L637.6,671.4 L656.7,666.7 L675.7,664.3 L694.8,666.7 L713.8,671.4 L732.9,669.0 L751.9,666.7 L771.0,671.4 L790.0,666.7 L809.0,664.3 L828.1,666.7 L847.1,664.3 L866.2,661.9 L880.5,664.3 L894.8,666.7 L909.0,661.9 L923.3,661.9 L937.6,664.3 L951.9,661.9 L966.2,659.5 L980.5,664.3 L994.8,666.7 L1009.0,664.3 L1023.3,661.9 L1037.6,654.8 L1051.9,647.6 L1056.1,651.6 L1067.3,644.8 L1080.7,640.4 L1094.2,642.6 L1107.6,644.8 L1121.1,642.6 L1127.8,640.4 L1157.0,638.1 L1157.0,950.0Z" fill="#7fdf05"/>
<path d="M560.0,950.0 L560.0,688.1 L590.0,688.1 L613.8,690.5 L637.6,685.7 L661.4,683.3 L685.2,685.7 L709.0,688.1 L732.9,685.7 L756.7,683.3 L780.5,688.1 L804.3,683.3 L828.1,685.7 L851.9,683.3 L875.7,685.7 L899.5,683.3 L923.3,681.0 L947.1,681.0 L971.0,678.6 L994.8,683.3 L1018.6,681.0 L1042.4,676.2 L1022.4,683.0 L1044.8,674.0 L1062.8,667.3 L1076.2,662.8 L1089.7,658.3 L1103.1,660.5 L1116.6,656.1 L1157.0,653.8 L1157.0,950.0Z" fill="#a6ef00"/>
<path d="M560.0,950.0 L560.0,702.4 L590.0,702.4 L613.8,704.8 L637.6,702.4 L661.4,700.0 L685.2,702.4 L709.0,704.8 L732.9,702.4 L756.7,700.0 L780.5,702.4 L804.3,700.0 L828.1,700.0 L851.9,697.6 L875.7,697.6 L899.5,697.6 L923.3,695.2 L947.1,695.2 L971.0,692.9 L994.8,695.2 L1018.6,692.9 L1042.4,690.5 L1022.4,696.4 L1044.8,689.7 L1062.8,683.0 L1076.2,676.2 L1085.2,671.7 L1091.9,667.3 L1134.5,665.0 L1134.5,950.0Z" fill="#ccff00"/>
<path d="M560.0,950.0 L560.0,739.5 L604.3,739.5 L625.7,737.1 L637.6,734.8 L651.9,737.1 L668.6,744.3 L685.2,749.0 L704.3,746.7 L723.3,741.9 L732.9,739.5 L740.0,734.8 L751.9,732.4 L761.4,725.2 L775.7,722.9 L787.6,720.5 L799.5,718.1 L813.8,718.1 L818.6,721.7 L828.1,722.9 L842.4,722.9 L851.9,718.1 L861.4,715.7 L875.7,715.7 L890.0,714.5 L904.3,715.7 L918.6,718.1 L928.1,722.9 L942.4,722.9 L956.7,720.5 L971.0,720.5 L980.5,713.3 L994.8,711.0 L1009.0,711.0 L1018.6,713.3 L1030.5,711.0 L1042.4,706.2 L1054.3,701.4 L1029.1,709.9 L1040.4,705.4 L1051.6,700.9 L1062.8,705.4 L1067.3,696.4 L1076.2,694.2 L1077.4,689.7 L1112.1,687.4 L1112.1,950.0Z" fill="#17521b"/>
<path d="M659.0,950.0 L659.0,749.0 L671.0,753.8 L685.2,753.8 L704.3,751.4 L723.3,749.0 L737.6,746.7 L751.9,741.9 L766.2,737.1 L780.5,734.8 L792.4,734.8 L804.3,732.4 L813.8,731.2 L828.1,733.6 L847.1,734.8 L863.8,734.8 L875.7,730.0 L890.0,727.6 L899.5,731.2 L913.8,734.8 L947.1,737.1 L971.0,736.0 L994.8,734.8 L1009.0,727.6 L1023.3,725.2 L1042.4,720.5 L1061.4,718.1 L1075.7,718.1 L1113.8,715.7 L1113.8,950.0Z" fill="#3f7d44"/>
<path d="M671.0,950.0 L671.0,761.0 L685.2,765.7 L699.5,763.3 L713.8,763.3 L728.1,768.1 L742.4,761.0 L756.7,751.4 L771.0,744.3 L785.2,741.9 L792.4,744.3 L804.3,751.4 L1018.6,751.4 L1035.2,741.9 L1047.1,739.5 L1061.4,734.8 L1078.1,732.4 L1113.8,730.0 L1113.8,950.0Z" fill="#67a86d"/>
<path d="M682.9,950.0 L682.9,782.4 L694.8,777.6 L709.0,780.0 L718.6,784.8 L732.9,780.0 L742.4,777.6 L747.1,782.4 L804.3,784.8 L1018.6,784.8 L1042.4,753.8 L1056.7,749.0 L1071.0,746.7 L1082.9,746.7 L1113.8,744.3 L1113.8,950.0Z" fill="#8fd396"/>
<path d="M694.8,950.0 L694.8,796.7 L704.3,799.0 L713.8,803.8 L723.3,801.4 L732.9,799.0 L756.7,799.0 L1018.6,799.0 L1047.1,770.5 L1059.0,763.3 L1073.3,758.6 L1087.6,758.6 L1113.8,756.2 L1113.8,950.0Z" fill="#b7ffbf"/>
<path d="M701.9,827.6 L713.8,822.9 L723.3,819.3 L737.6,822.9 L742.4,844.3 L723.3,844.3Z" fill="#aaf5df"/>
<path d="M716.2,824.0 L725.7,821.0 L735.2,827.6 L738.8,838.3 L723.3,838.3Z" fill="#55c2b4"/>
<path d="M1018.6,950.0 L1018.6,813.3 L1049.5,784.8 L1063.8,775.2 L1078.1,772.9 L1090.0,775.2 L1085.7,772.9 L1097.1,775.7 L1114.3,775.7 L1114.3,950.0Z" fill="#55c2b4"/>
<path d="M1028.6,950.0 L1028.6,824.3 L1060.0,820.0 L1074.3,824.3 L1085.7,821.4 L1097.1,815.7 L1114.3,812.9 L1114.3,950.0Z" fill="#72d4c2"/>
<path d="M1028.6,950.0 L1028.6,844.3 L1068.6,840.0 L1085.7,841.4 L1097.1,835.7 L1114.3,832.9 L1114.3,950.0Z" fill="#8fe6d0"/>
<path d="M1028.6,950.0 L1028.6,861.4 L1080.0,858.6 L1091.4,855.7 L1102.9,850.0 L1114.3,847.1 L1114.3,950.0Z" fill="#aaf5df"/>
<path d="M100.0,200.0 L600.0,200.0 L600.0,446.0 L452.0,446.0 L452.0,420.0 L100.0,420.0Z" fill="#f59999"/>
<path d="M100.0,420.0 L452.0,420.0 L452.0,446.0 L560.0,446.0 L560.0,700.0 L100.0,700.0Z" fill="#fdbf72"/>
<path d="M254.8,238.1 L326.2,238.1 L326.2,267.9 L316.7,275.0 L297.6,267.9 L273.8,265.5 L257.1,270.2 L254.8,253.6Z" fill="#f76666"/>
<path d="M254.8,358.3 L283.3,348.8 L311.9,353.6 L321.4,367.9 L316.7,386.9 L292.9,391.7 L264.3,396.4 L245.2,391.7 L240.5,377.4Z" fill="#f76666"/>
<path d="M269.0,367.9 L288.1,363.1 L297.6,377.4 L283.3,386.9 L269.0,382.1Z" fill="#fc3333"/>
<path d="M327.4,238.1 L345.2,238.1 L346.4,263.1 L352.4,275.0 L364.3,286.9 L378.6,296.4 L379.8,315.5 L364.3,320.2 L352.4,320.2 L340.5,315.5 L333.3,303.6 L328.6,296.4Z" fill="#f76666"/>
<path d="M371.4,339.3 L388.1,336.9 L397.6,348.8 L388.1,358.3 L378.6,353.6Z" fill="#f59999"/>
<path d="M347.6,238.1 L378.6,238.1 L388.1,251.2 L397.6,265.5 L407.1,282.1 L402.4,296.4 L388.1,301.2 L378.6,294.0 L364.3,284.5 L352.4,272.6 L347.6,260.7Z" fill="#f76666"/>
<path d="M423.8,239.3 L435.7,239.3 L450.0,248.8 L435.7,258.3 L426.2,258.3Z" fill="#f76666"/>
<path d="M402.4,296.4 L419.0,289.3 L428.6,291.7 L435.7,308.3 L447.6,320.2 L435.7,332.1 L411.9,336.9 L402.4,329.8 L395.2,320.2 L402.4,315.5 L411.9,304.8Z" fill="#f59999"/>
<path d="M441.1,278.4 L477.4,278.4 L497.6,288.5 L495.6,300.6 L481.5,306.7 L461.3,306.7 L445.2,298.6Z" fill="#f76666"/>
<path d="M510.7,396.7 L543.0,392.7 L571.3,400.7 L575.3,425.0 L571.3,445.2 L514.8,445.2 L518.8,425.0Z" fill="#f59999"/>
<path d="M543.0,404.8 L567.3,400.7 L573.3,416.9 L569.3,433.0 L551.1,437.1 L543.0,425.0Z" fill="#f76666"/>
<path d="M451.2,425.0 L496.6,437.1 L518.8,425.0 L518.8,446.2 L451.2,446.2Z" fill="#f59999"/>
<path d="M169.0,422.6 L261.9,422.6 L261.9,496.4 L254.8,491.7 L245.2,496.4 L231.0,486.9 L221.4,472.6 L216.7,453.6 L209.5,448.8 L202.4,458.3 L197.6,472.6 L188.1,477.4 L181.0,467.9 L173.8,448.8Z" fill="#f59999"/>
<path d="M231.0,467.9 L250.0,472.6 L254.8,489.3 L245.2,494.0 L233.3,484.5Z" fill="#f76666"/>
<path d="M264.3,422.6 L316.7,422.6 L307.1,439.3 L292.9,448.8 L278.6,444.0 L266.7,448.8Z" fill="#f59999"/>
<path d="M340.5,425.0 L364.3,425.0 L359.5,439.3 L347.6,444.0Z" fill="#f76666"/>
<path d="M590.0,323.8 L599.5,331.0 L613.8,342.9 L635.2,354.8 L656.7,341.7 L668.6,339.3 L684.0,354.8 L692.4,361.9 L694.8,371.4 L685.2,381.0 L697.1,390.5 L713.8,400.0 L704.3,407.1 L709.0,419.0 L697.1,428.6 L680.5,433.3 L661.4,438.1 L642.4,442.9 L641.2,511.9 L590.0,511.9Z" fill="#fdaa55"/>
<path d="M599.5,347.6 L618.6,354.8 L637.6,361.9 L651.9,378.6 L647.1,390.5 L625.7,385.7 L604.3,378.6Z" fill="#fd9533"/>
<path d="M601.9,400.0 L637.6,397.6 L661.4,404.8 L680.5,414.3 L661.4,423.8 L637.6,428.6 L613.8,423.8 L601.9,414.3Z" fill="#fd9533"/>
<path d="M604.3,457.1 L632.9,452.4 L641.2,466.7 L641.2,490.5 L618.6,495.2 L599.5,481.0Z" fill="#fdbf72"/>
<path d="M590.0,340.5 L604.3,341.7 L616.2,354.8 L617.4,371.4 L609.0,381.0 L594.8,382.1 L590.0,376.2Z" fill="#f4cccc"/>
<path d="M594.8,351.2 L604.3,352.4 L611.4,361.9 L610.2,373.8 L600.7,377.4 L593.6,369.0Z" fill="#f76666"/>
<path d="M598.3,359.5 L604.3,360.7 L605.5,367.9 L599.5,370.2Z" fill="#4d4d4d"/>
<path d="M842.4,353.6 L854.3,357.1 L875.7,361.9 L885.2,365.5 L893.6,350.0 L913.8,346.4 L944.8,333.3 L947.1,314.3 L994.8,314.3 L1056.7,323.8 L1063.8,371.4 L1056.7,404.8 L1042.4,423.8 L1032.9,419.0 L1018.6,411.9 L1004.3,416.7 L982.9,419.0 L968.6,423.8 L940.0,404.8 L911.4,403.6 L887.6,402.4 L875.7,395.2 L871.0,378.6 L856.7,366.7Z" fill="#fdaa55"/>
<path d="M970.3,350.2 L986.5,356.9 L994.6,365.0 L1010.7,360.9 L1024.1,356.9 L1032.2,362.3 L1024.1,369.0 L1026.8,378.4 L1037.6,370.3 L1048.4,374.4 L1051.0,389.2 L1037.6,386.5 L1024.1,383.8 L1005.3,374.4 L987.8,381.1 L973.0,383.8 L969.0,370.3Z" fill="#fd9533"/>
<path d="M1000.4,324.2 L1009.4,321.9 L1020.6,324.2 L1031.8,330.9 L1036.3,339.9 L1036.3,351.1 L1027.3,355.6 L1020.6,351.1 L1013.9,357.8 L1004.9,360.0 L995.9,366.8 L987.0,364.5 L984.7,357.8 L991.4,351.1 L995.9,342.1 L995.9,333.1Z" fill="#f4cccc"/>
<path d="M1016.1,348.8 L1022.8,346.6 L1023.9,353.3 L1017.2,354.4Z" fill="#fdaa55"/>
<path d="M951.1,301.7 L964.5,301.7 L973.5,298.4 L984.7,296.1 L995.9,295.0 L1001.5,295.0 L1002.6,299.5 L1007.1,302.9 L1013.9,301.7 L1020.6,311.8 L1025.1,316.3 L1007.1,314.8 L991.4,313.4 L982.5,315.7 L973.5,319.0 L966.8,320.1 L967.9,313.0 L964.5,306.2 L955.6,307.4Z" fill="#f59999"/>
<path d="M993.0,302.0 L1000.9,299.4 L1012.1,303.6 L1018.8,310.9 L1007.6,313.9 L998.7,310.6 L993.0,307.6Z" fill="#4d4d4d"/>
<path d="M998.7,303.6 L1002.0,303.1 L1002.6,307.0 L999.8,307.6Z" fill="#f59999"/>
<path d="M928.7,278.2 L937.6,275.5 L943.2,276.4 L942.1,279.3 L935.4,283.8 L932.0,283.8Z" fill="#f59999"/>
<path d="M1078.6,428.6 L1095.2,423.8 L1095.2,478.6 L1119.0,488.1 L1133.3,481.0 L1152.4,483.3 L1166.7,476.2 L1185.7,466.7 L1204.8,464.3 L1209.5,452.4 L1214.3,442.9 L1228.6,433.3 L1238.1,442.9 L1250.0,440.5 L1278.6,442.9 L1321.4,433.3 L1333.3,395.2 L1404.8,323.8 L1285.7,276.2 L1166.7,335.7 L1119.0,383.3 L1095.2,407.1Z" fill="#fdaa55"/>
<path d="M1104.8,435.7 L1133.3,426.2 L1166.7,429.8 L1195.2,439.3 L1192.9,452.4 L1171.4,459.5 L1142.9,464.3 L1114.3,464.3 L1106.0,454.8Z" fill="#fd9533"/>
<path d="M1133.3,394.0 L1166.7,389.3 L1188.1,378.6 L1200.0,397.6 L1223.8,407.1 L1228.6,423.8 L1214.3,428.6 L1181.0,411.9 L1142.9,409.5Z" fill="#fd9533"/>
<path d="M1204.8,466.7 L1214.3,454.8 L1228.6,442.9 L1233.3,457.1 L1223.8,476.2 L1214.3,490.5 L1204.8,488.1Z" fill="#fdbf72"/>
<path d="M1078.6,428.6 L1095.2,423.8 L1095.2,478.6 L1119.0,488.1 L1133.3,481.0 L1152.4,483.3 L1166.7,476.2 L1185.7,466.7 L1204.8,464.3 L1209.5,452.4 L1214.3,442.9 L1228.6,433.3 L1238.1,442.9 L1250.0,440.5 L1278.6,442.9 L1321.4,433.3 L1333.3,395.2 L1404.8,323.8 L1285.7,276.2 L1166.7,335.7 L1119.0,383.3 L1095.2,407.1Z" fill="#000" filter="url(#texneo)"/>
<path d="M1191.7,369.0 L1202.4,361.9 L1209.5,347.6 L1228.6,342.9 L1240.5,347.6 L1244.0,361.9 L1242.9,378.6 L1235.7,392.9 L1223.8,396.4 L1214.3,391.7 L1204.8,384.5 L1195.2,382.1Z" fill="#f4cccc"/>
<path d="M1207.1,354.8 L1214.3,347.6 L1226.2,345.2 L1235.7,347.6 L1239.3,359.5 L1238.1,371.4 L1233.3,381.0 L1226.2,388.1 L1219.0,390.5 L1214.3,383.3 L1209.5,376.2 L1206.0,366.7Z" fill="#4d4d4d"/>
<path d="M1194.0,373.8 L1198.8,372.6 L1201.2,378.6 L1196.4,381.0Z" fill="#4d4d4d"/>
<path d="M1204.8,404.8 L1219.0,402.4 L1231.0,411.9 L1228.6,426.2 L1214.3,429.8 L1204.8,419.0Z" fill="#f4cccc"/>
<path d="M1214.3,414.3 L1221.4,413.1 L1223.8,420.2 L1216.7,421.9Z" fill="#f76666"/>
<path d="M1181.0,395.2 L1200.0,394.0 L1207.1,404.8 L1190.5,409.5Z" fill="#f4cccc"/>
<path d="M1133.3,402.4 L1152.4,401.2 L1154.8,415.5 L1135.7,416.7Z" fill="#f4cccc"/>
<path d="M1128.6,423.8 L1171.4,422.6 L1173.8,433.3 L1152.4,432.1 L1129.8,432.1Z" fill="#f4cccc"/>
<path d="M1250.0,345.2 L1261.9,345.2 L1266.7,361.9 L1264.3,381.0 L1259.5,397.6 L1250.0,398.8 L1252.4,378.6 L1251.2,361.9Z" fill="#f4cccc"/>
<path d="M1252.9,378.6 L1257.6,378.6 L1256.7,397.6 L1251.9,397.6Z" fill="#f76666"/>
<path d="M1255.7,341.3 L1284.0,341.3 L1279.2,354.2 L1273.0,360.5 L1269.8,368.3 L1265.1,360.5 L1260.4,351.1Z" fill="#4d4d4d"/>
<path d="M1273.8,366.7 L1285.7,369.0 L1295.2,361.9 L1295.2,378.6 L1285.7,383.3 L1273.8,381.0 L1269.0,373.8Z" fill="#f4cccc"/>
<path d="M1285.5,333.0 L1295.3,332.2 L1296.0,366.8 L1290.2,368.3 L1285.5,369.9 L1284.0,363.6 L1277.7,362.0 L1282.4,354.2 L1284.7,344.8Z" fill="#4d4d4d"/>
<path d="M1295.7,338.1 L1371.4,314.3 L1385.7,347.6 L1309.5,400.0 L1297.6,400.0Z" fill="#f4cccc"/>
<path d="M1297.6,371.4 L1309.5,359.5 L1323.8,354.8 L1333.3,352.4 L1328.6,361.9 L1316.7,369.0 L1304.8,378.6 L1297.6,390.5Z" fill="#fdaa55"/>
<path d="M1338.1,357.1 L1352.4,347.6 L1371.4,338.1 L1381.0,342.9 L1357.1,361.9 L1338.1,369.0Z" fill="#f59999"/>
<path d="M1295.2,335.7 L1296.4,359.5 L1304.8,351.2 L1316.7,346.4 L1328.6,342.9 L1340.5,338.1 L1352.4,333.3 L1364.3,327.4 L1369.0,322.6 L1371.4,264.3 L1295.2,264.3Z" fill="#4d4d4d"/>
<path d="M1155.4,463.4 L1174.2,455.4 L1187.7,447.3 L1201.1,444.6 L1209.2,439.2 L1214.6,447.3 L1206.5,455.4 L1217.3,467.5 L1201.1,476.9 L1155.4,477.6Z" fill="#fdbf72"/>
<path d="M1160.8,471.5 L1176.9,463.4 L1190.4,459.4 L1201.1,460.8 L1209.2,466.1 L1198.4,476.2 L1160.8,477.2Z" fill="#fdd48e"/>
<path d="M1094.8,455.4 L1106.9,460.8 L1115.0,471.5 L1112.3,477.6 L1094.8,477.6Z" fill="#fdbf72"/>
<path d="M1214.6,439.2 L1232.1,447.3 L1233.4,460.8 L1222.7,466.1 L1217.3,460.8 L1217.3,450.0Z" fill="#fdbf72"/>
<path d="M1217.3,466.1 L1233.4,460.8 L1232.1,474.2 L1225.4,487.7 L1214.6,495.7 L1201.1,487.7 L1206.5,476.9Z" fill="#fdd48e"/>
<path d="M1191.7,369.0 L1202.4,361.9 L1209.5,347.6 L1228.6,342.9 L1240.5,347.6 L1244.0,361.9 L1242.9,378.6 L1235.7,392.9 L1223.8,396.4 L1214.3,391.7 L1204.8,384.5 L1195.2,382.1ZM1204.8,404.8 L1219.0,402.4 L1231.0,411.9 L1228.6,426.2 L1214.3,429.8 L1204.8,419.0ZM1181.0,395.2 L1200.0,394.0 L1207.1,404.8 L1190.5,409.5ZM1133.3,402.4 L1152.4,401.2 L1154.8,415.5 L1135.7,416.7ZM1128.6,423.8 L1171.4,422.6 L1173.8,433.3 L1152.4,432.1 L1129.8,432.1ZM1250.0,345.2 L1261.9,345.2 L1266.7,361.9 L1264.3,381.0 L1259.5,397.6 L1250.0,398.8 L1252.4,378.6 L1251.2,361.9ZM1273.8,366.7 L1285.7,369.0 L1295.2,361.9 L1295.2,378.6 L1285.7,383.3 L1273.8,381.0 L1269.0,373.8ZM1295.7,338.1 L1371.4,314.3 L1385.7,347.6 L1309.5,400.0 L1297.6,400.0Z" fill="#000" filter="url(#texnep)"/>
<path d="M1207.1,354.8 L1214.3,347.6 L1226.2,345.2 L1235.7,347.6 L1239.3,359.5 L1238.1,371.4 L1233.3,381.0 L1226.2,388.1 L1219.0,390.5 L1214.3,383.3 L1209.5,376.2 L1206.0,366.7Z" fill="#4d4d4d"/>
<path d="M1194.0,373.8 L1198.8,372.6 L1201.2,378.6 L1196.4,381.0Z" fill="#4d4d4d"/>
<path d="M1255.7,341.3 L1284.0,341.3 L1279.2,354.2 L1273.0,360.5 L1269.8,368.3 L1265.1,360.5 L1260.4,351.1Z" fill="#4d4d4d"/>
<path d="M1285.5,333.0 L1295.3,332.2 L1296.0,366.8 L1290.2,368.3 L1285.5,369.9 L1284.0,363.6 L1277.7,362.0 L1282.4,354.2 L1284.7,344.8Z" fill="#4d4d4d"/>
<path d="M1295.2,335.7 L1296.4,359.5 L1304.8,351.2 L1316.7,346.4 L1328.6,342.9 L1340.5,338.1 L1352.4,333.3 L1364.3,327.4 L1369.0,322.6 L1371.4,264.3 L1295.2,264.3Z" fill="#4d4d4d"/>
<path d="M1076.2,499.5 L1090.5,487.6 L1104.8,482.9 L1114.3,480.5 L1138.1,480.5 L1152.4,494.8 L1138.1,511.4 L1126.2,528.1 L1109.5,542.4 L1095.2,556.7 L1081.0,568.6 L1066.7,582.9 L1052.4,594.8 L1033.3,606.7 L1019.0,607.9 L1014.3,604.3 L1016.7,594.8 L1019.0,582.9 L1023.8,573.3 L1033.3,563.8 L1042.9,559.0 L1052.4,554.3 L1061.9,549.5 L1066.7,542.4 L1069.0,535.2 L1073.8,525.7 L1078.6,516.2 L1076.2,506.7Z" fill="#fdd48e"/>
<path d="M1114.3,487.6 L1123.8,494.8 L1114.3,509.0 L1104.8,521.0 L1090.5,535.2 L1081.0,544.8 L1071.4,544.8 L1076.2,535.2 L1085.7,521.0 L1097.6,506.7 L1107.1,494.8Z" fill="#fdaa55"/>
<path d="M1081.0,559.0 L1071.4,573.3 L1057.1,587.6 L1047.6,597.1 L1038.1,601.9 L1042.9,592.4 L1052.4,582.9 L1061.9,573.3 L1071.4,561.4Z" fill="#fdaa55"/>
<path d="M1114.3,496.0 L1120.2,497.1 L1111.9,511.4 L1104.8,516.2 L1107.1,506.7Z" fill="#f4cccc"/>
<path d="M1119.0,518.6 L1128.6,511.4 L1140.5,501.9 L1147.6,499.5 L1138.1,511.4 L1126.2,525.7Z" fill="#775d0a"/>
<path d="M824.0,525.6 L839.7,521.1 L857.6,525.6 L875.6,532.3 L875.6,545.7 L862.1,554.7 L844.2,557.0 L828.5,552.5 L821.7,539.0Z" fill="#775d0a"/>
<path d="M100.0,200.0 L600.0,200.0 L600.0,446.0 L452.0,446.0 L452.0,420.0 L390.0,420.0 L390.0,520.0 L330.0,540.0 L263.0,500.0 L240.0,520.0 L200.0,480.0 L100.0,420.0Z" fill="#000" filter="url(#texnw)"/>
<path d="M174.7,258.1 L190.4,257.0 L201.6,262.6 L202.7,276.1 L190.4,280.5 L179.1,276.1Z" fill="#cb8f85"/>
<path d="M217.3,235.7 L255.4,235.7 L257.6,251.4 L250.9,269.3 L248.7,287.3 L244.2,305.2 L237.4,314.2 L226.2,314.2 L224.0,296.2 L227.4,278.3 L221.7,262.6 L218.4,246.9Z" fill="#cb8f85"/>
<path d="M215.0,320.9 L227.4,318.7 L229.6,341.1 L227.4,368.0 L225.1,394.9 L218.4,408.3 L215.0,385.9 L217.3,354.5Z" fill="#cb8f85"/>
<path d="M309.5,327.4 L326.2,329.8 L326.2,341.7 L314.3,339.3Z" fill="#cb8f85"/>
<path d="M378.6,238.1 L416.7,238.1 L423.8,258.3 L426.2,279.8 L419.0,289.3 L407.1,282.1 L397.6,265.5 L388.1,251.2Z" fill="#cb8f85"/>
<path d="M174.7,258.1 L190.4,257.0 L201.6,262.6 L202.7,276.1 L190.4,280.5 L179.1,276.1ZM217.3,235.7 L255.4,235.7 L257.6,251.4 L250.9,269.3 L248.7,287.3 L244.2,305.2 L237.4,314.2 L226.2,314.2 L224.0,296.2 L227.4,278.3 L221.7,262.6 L218.4,246.9ZM215.0,320.9 L227.4,318.7 L229.6,341.1 L227.4,368.0 L225.1,394.9 L218.4,408.3 L215.0,385.9 L217.3,354.5ZM309.5,327.4 L326.2,329.8 L326.2,341.7 L314.3,339.3ZM378.6,238.1 L416.7,238.1 L423.8,258.3 L426.2,279.8 L419.0,289.3 L407.1,282.1 L397.6,265.5 L388.1,251.2Z" fill="#000" filter="url(#texbr)"/>
<path d="M203.6,270.2 L221.4,267.9 L226.2,286.9 L221.4,306.0 L228.6,315.5 L207.1,320.2 L201.2,310.7 L203.6,296.4Z" fill="#f4cccc"/>
<path d="M283.3,248.8 L302.4,246.4 L316.7,253.6 L314.3,265.5 L297.6,263.1 L283.3,260.7Z" fill="#f4cccc"/>
<path d="M314.3,272.6 L326.2,270.2 L326.2,296.4 L321.4,291.7Z" fill="#f4cccc"/>
<path d="M231.0,327.4 L254.8,329.8 L264.3,348.8 L254.8,358.3 L240.5,377.4 L233.3,367.9 L232.1,344.0Z" fill="#f4cccc"/>
<path d="M231.0,391.7 L264.3,396.4 L283.3,401.2 L288.1,417.9 L232.1,417.9Z" fill="#f4cccc"/>
<path d="M327.4,386.9 L345.2,398.8 L364.3,408.3 L388.1,413.1 L416.7,413.1 L448.8,406.0 L448.8,419.0 L327.4,419.0Z" fill="#f4cccc"/>
<path d="M423.8,365.5 L448.8,358.3 L448.8,386.9 L435.7,391.7 L423.8,382.1 L435.7,372.6Z" fill="#f4cccc"/>
<path d="M426.2,258.3 L447.6,248.8 L471.4,265.5 L488.1,270.2 L500.0,267.9 L507.1,282.1 L502.4,294.0 L492.9,303.6 L500.0,313.1 L511.9,320.2 L502.4,329.8 L483.3,334.5 L459.5,329.8 L447.6,320.2 L435.7,308.3 L428.6,291.7 L426.2,279.8Z" fill="#f4cccc"/>
<path d="M521.4,306.0 L540.5,303.6 L545.2,320.2 L535.7,334.5 L521.4,329.8Z" fill="#f4cccc"/>
<path d="M569.0,296.4 L585.7,296.4 L595.2,306.0 L592.9,325.0 L578.6,320.2Z" fill="#f4cccc"/>
<path d="M451.2,341.2 L598.6,341.2 L598.6,446.2 L451.2,446.2Z" fill="#f4cccc"/>
<path d="M221.4,429.8 L259.5,427.4 L260.7,460.7 L245.2,465.5 L228.6,453.6Z" fill="#f4cccc"/>
<path d="M316.7,422.6 L388.1,422.6 L388.1,491.7 L378.6,506.0 L364.3,515.5 L350.0,510.7 L335.7,520.2 L326.2,513.1 L321.4,498.8 L331.0,484.5 L321.4,470.2 L333.3,456.0 L323.8,439.3Z" fill="#f4cccc"/>
<path d="M203.6,270.2 L221.4,267.9 L226.2,286.9 L221.4,306.0 L228.6,315.5 L207.1,320.2 L201.2,310.7 L203.6,296.4ZM283.3,248.8 L302.4,246.4 L316.7,253.6 L314.3,265.5 L297.6,263.1 L283.3,260.7ZM314.3,272.6 L326.2,270.2 L326.2,296.4 L321.4,291.7ZM231.0,327.4 L254.8,329.8 L264.3,348.8 L254.8,358.3 L240.5,377.4 L233.3,367.9 L232.1,344.0ZM231.0,391.7 L264.3,396.4 L283.3,401.2 L288.1,417.9 L232.1,417.9ZM327.4,386.9 L345.2,398.8 L364.3,408.3 L388.1,413.1 L416.7,413.1 L448.8,406.0 L448.8,419.0 L327.4,419.0ZM423.8,365.5 L448.8,358.3 L448.8,386.9 L435.7,391.7 L423.8,382.1 L435.7,372.6ZM426.2,258.3 L447.6,248.8 L471.4,265.5 L488.1,270.2 L500.0,267.9 L507.1,282.1 L502.4,294.0 L492.9,303.6 L500.0,313.1 L511.9,320.2 L502.4,329.8 L483.3,334.5 L459.5,329.8 L447.6,320.2 L435.7,308.3 L428.6,291.7 L426.2,279.8ZM521.4,306.0 L540.5,303.6 L545.2,320.2 L535.7,334.5 L521.4,329.8ZM569.0,296.4 L585.7,296.4 L595.2,306.0 L592.9,325.0 L578.6,320.2ZM451.2,341.2 L598.6,341.2 L598.6,446.2 L451.2,446.2ZM221.4,429.8 L259.5,427.4 L260.7,460.7 L245.2,465.5 L228.6,453.6ZM316.7,422.6 L388.1,422.6 L388.1,491.7 L378.6,506.0 L364.3,515.5 L350.0,510.7 L335.7,520.2 L326.2,513.1 L321.4,498.8 L331.0,484.5 L321.4,470.2 L333.3,456.0 L323.8,439.3Z" fill="#000" filter="url(#texl)"/>
<path d="M254.8,272.6 L273.8,267.9 L292.9,270.2 L311.9,279.8 L321.4,294.0 L325.0,306.0 L316.7,313.6 L302.4,313.6 L283.3,311.2 L264.3,306.4 L250.0,304.0 L245.2,294.0 L252.4,284.5Z" fill="#fd9533"/>
<path d="M269.0,289.3 L283.3,284.5 L297.6,291.7 L302.4,303.6 L288.1,309.5 L273.8,306.0 L266.7,298.8Z" fill="#fdbf72"/>
<path d="M261.9,239.3 L271.4,239.3 L273.8,267.9 L264.3,269.0Z" fill="#fd9533"/>
<path d="M190.5,326.2 L209.5,326.2 L210.7,348.8 L207.1,367.9 L204.8,382.1 L192.9,379.8 L189.3,358.3Z" fill="#fd9533"/>
<path d="M178.6,391.7 L202.4,386.9 L207.1,406.0 L197.6,419.0 L176.2,419.0Z" fill="#fdaa55"/>
<path d="M250.0,320.2 L283.3,314.3 L316.7,315.0 L321.4,320.2 L302.4,325.0 L273.8,327.4 L254.8,329.8Z" fill="#fd9533"/>
<path d="M288.1,396.4 L307.1,391.7 L325.0,389.3 L325.0,417.9 L292.9,417.9Z" fill="#fd9533"/>
<path d="M328.6,303.6 L340.5,306.0 L338.1,315.5 L328.6,313.1Z" fill="#fd9533"/>
<path d="M390.6,304.7 L408.8,306.7 L414.9,296.6 L427.0,298.6 L435.1,306.7 L431.0,314.8 L439.1,325.9 L449.2,327.9 L461.3,324.9 L475.4,324.9 L489.6,334.0 L493.6,340.6 L451.2,340.6 L450.2,351.1 L450.2,373.3 L441.1,369.3 L429.0,378.4 L416.9,386.4 L404.8,381.4 L392.7,374.3 L380.6,378.4 L367.4,373.3 L358.4,361.2 L352.3,347.1 L352.3,329.9 L368.4,324.9 L378.5,332.9 L386.6,337.0 L385.6,351.1 L396.7,341.0 L400.7,337.0 L393.7,326.9 L388.6,316.8Z" fill="#4d4d4d"/>
<path d="M344.2,320.8 L360.4,318.8 L362.4,326.9 L350.3,328.9Z" fill="#4d4d4d"/>
<path d="M327.4,360.7 L340.5,370.2 L354.8,384.5 L373.8,395.2 L397.6,400.0 L416.7,400.0 L435.7,395.2 L447.6,386.9 L448.8,401.2 L435.7,406.0 L411.9,409.5 L388.1,409.5 L364.3,403.6 L345.2,394.0 L331.0,379.8 L327.4,372.6Z" fill="#fd9533"/>
<path d="M335.7,377.4 L350.0,389.3 L369.0,398.8 L388.1,403.6 L407.1,402.4 L397.6,396.4 L373.8,391.7 L354.8,379.8 L340.5,370.2Z" fill="#fdbf72"/>
<path d="M448.2,284.5 L461.3,283.5 L471.4,290.6 L474.4,296.6 L465.3,300.6 L457.3,298.6 L451.2,292.6Z" fill="#4d4d4d"/>
<path d="M481.5,291.6 L489.6,290.6 L492.6,295.6 L487.5,299.6 L481.5,297.6Z" fill="#4d4d4d"/>
<path d="M500.0,267.9 L521.4,265.5 L535.7,270.2 L545.2,282.1 L554.8,289.3 L569.0,286.9 L585.7,296.4 L600.0,303.6 L600.0,338.1 L507.1,338.1 L502.4,329.8 L511.9,320.2 L500.0,313.1 L492.9,303.6 L502.4,294.0 L507.1,282.1Z" fill="#fd9533"/>
<path d="M416.9,234.0 L416.9,238.1 L425.0,250.2 L433.0,256.2 L445.2,258.3 L461.3,262.3 L469.4,260.3 L477.4,252.2 L487.5,250.2 L501.7,252.2 L511.8,260.3 L521.9,268.4 L534.0,266.3 L540.0,270.4 L548.1,280.5 L558.2,286.5 L566.3,284.5 L572.3,290.6 L580.0,300.6 L595.2,296.4 L598.8,303.6 L599.5,331.0 L601.9,335.7 L613.8,342.9 L625.7,347.6 L635.2,354.8 L644.8,347.6 L656.7,341.7 L668.6,339.3 L675.7,344.0 L684.0,354.8 L692.4,361.9 L701.9,365.5 L709.0,370.2 L712.6,361.9 L723.3,366.7 L735.2,370.2 L742.4,376.2 L754.3,373.8 L760.2,378.6 L785.2,378.6 L792.4,371.4 L804.3,364.3 L816.2,363.1 L823.3,369.0 L830.5,364.3 L823.3,354.8 L818.6,347.6 L824.5,338.1 L830.5,335.7 L835.2,340.5 L837.6,347.6 L844.8,353.6 L854.3,357.1 L863.8,360.7 L875.7,361.9 L885.2,365.5 L891.2,358.3 L893.6,350.0 L901.9,346.4 L913.8,346.4 L923.3,344.0 L932.9,340.5 L940.0,338.1 L944.8,333.3 L945.5,337.6 L955.6,328.7 L964.5,318.6 L967.9,313.0 L964.5,306.2 L955.6,307.4 L951.1,301.7 L948.8,297.3 L942.1,274.8 L906.2,252.4 L910.0,200.0 L419.0,200.0Z" fill="#4d4d4d"/>
<path d="M451.2,341.8 L487.5,341.8 L490.6,354.3 L496.6,368.4 L498.6,378.5 L496.6,386.6 L500.6,396.7 L514.8,400.7 L518.8,410.8 L518.8,425.0 L510.7,433.0 L496.6,437.1 L482.5,433.0 L470.4,439.1 L460.3,441.1 L451.2,443.1Z" fill="#4d4d4d"/>
<path d="M496.6,343.2 L516.8,342.6 L530.9,346.2 L539.0,356.3 L541.0,368.4 L535.0,380.6 L524.9,388.6 L514.8,392.7 L500.6,388.6 L498.6,380.6 L514.8,384.6 L526.9,378.5 L530.9,368.4 L526.9,358.4 L516.8,352.3 L504.7,352.3 L500.6,360.4 L504.7,368.4 L500.6,372.5 L496.6,360.4Z" fill="#4d4d4d"/>
<path d="M506.7,354.3 L516.8,353.3 L525.9,359.4 L528.9,368.4 L524.9,376.5 L514.8,380.6 L506.7,374.5 L508.7,366.4 L505.7,360.4Z" fill="#fd9533"/>
<path d="M510.7,360.4 L516.8,359.4 L518.8,368.4 L514.8,372.5 L511.8,367.4Z" fill="#4d4d4d"/>
<path d="M549.1,405.8 L561.2,404.8 L565.6,414.9 L563.6,425.0 L555.2,417.9 L547.1,414.9Z" fill="#4d4d4d"/>
<path d="M530.9,435.1 L543.0,432.0 L556.2,433.0 L559.2,446.2 L530.9,446.2Z" fill="#4d4d4d"/>
<path d="M514.8,404.8 L521.8,403.8 L522.9,408.8 L516.8,409.8Z" fill="#4d4d4d"/>
<path d="M547.1,342.2 L598.6,342.2 L598.6,360.4 L583.4,358.4 L571.3,350.3 L559.2,358.4 L549.1,352.3Z" fill="#fd9533"/>
<path d="M571.3,370.5 L583.4,366.4 L598.6,368.4 L598.6,394.7 L583.4,396.7 L571.3,388.6 L569.3,378.5Z" fill="#fd9533"/>
<path d="M574.3,406.8 L598.6,404.8 L598.6,441.1 L583.4,439.1 L575.3,425.0Z" fill="#fd9533"/>
<path d="M592.5,359.4 L597.5,359.4 L597.5,365.4 L593.5,366.0Z" fill="#4d4d4d"/>
<path d="M390.6,304.7 L408.8,306.7 L414.9,296.6 L427.0,298.6 L435.1,306.7 L431.0,314.8 L439.1,325.9 L449.2,327.9 L461.3,324.9 L475.4,324.9 L489.6,334.0 L493.6,340.6 L451.2,340.6 L450.2,351.1 L450.2,373.3 L441.1,369.3 L429.0,378.4 L416.9,386.4 L404.8,381.4 L392.7,374.3 L380.6,378.4 L367.4,373.3 L358.4,361.2 L352.3,347.1 L352.3,329.9 L368.4,324.9 L378.5,332.9 L386.6,337.0 L385.6,351.1 L396.7,341.0 L400.7,337.0 L393.7,326.9 L388.6,316.8ZM451.2,341.8 L487.5,341.8 L490.6,354.3 L496.6,368.4 L498.6,378.5 L496.6,386.6 L500.6,396.7 L514.8,400.7 L518.8,410.8 L518.8,425.0 L510.7,433.0 L496.6,437.1 L482.5,433.0 L470.4,439.1 L460.3,441.1 L451.2,443.1ZM528.8,449.2 L545.0,448.2 L565.2,448.2 L569.2,460.3 L567.2,476.4 L573.2,488.5 L579.3,498.6 L581.3,508.7 L573.2,510.7 L569.2,516.8 L577.3,524.9 L579.3,539.0 L575.2,551.1 L561.1,559.2 L549.0,561.2 L540.9,551.1 L528.8,543.0 L516.7,539.0 L510.6,530.9 L520.7,524.9 L528.8,516.8 L536.9,506.7 L534.9,496.6 L540.9,488.5 L534.9,480.5 L526.8,476.4 L528.8,464.3Z" fill="#000" filter="url(#texg)"/>
<path d="M500.0,267.9 L521.4,265.5 L535.7,270.2 L545.2,282.1 L554.8,289.3 L569.0,286.9 L585.7,296.4 L600.0,303.6 L600.0,338.1 L507.1,338.1 L502.4,329.8 L511.9,320.2 L500.0,313.1 L492.9,303.6 L502.4,294.0 L507.1,282.1Z" fill="#000" filter="url(#texo)"/>
<path d="M178.6,448.8 L197.6,446.4 L204.8,453.6 L197.6,470.2 L185.7,472.6 L179.8,463.1Z" fill="#fdaa55"/>
<path d="M228.6,460.7 L245.2,463.1 L242.9,477.4 L231.0,475.0Z" fill="#fdaa55"/>
<path d="M331.0,456.0 L350.0,451.2 L364.3,463.1 L359.5,482.1 L340.5,486.9 L328.6,477.4Z" fill="#fdaa55"/>
<path d="M266.7,451.2 L292.9,451.2 L316.7,475.0 L314.3,503.6 L302.4,525.0 L283.3,520.2 L266.7,496.4Z" fill="#fdaa55"/>
<path d="M316.7,525.0 L335.7,532.1 L354.8,525.0 L376.2,525.0 L388.1,515.5 L388.1,544.0 L373.8,539.3 L359.5,541.7 L345.2,551.2 L331.0,546.4 L316.7,541.7Z" fill="#fdaa55"/>
<path d="M389.3,422.6 L451.2,422.6 L451.2,446.4 L459.5,446.4 L459.5,550.0 L389.3,550.0Z" fill="#fdaa55"/>
<path d="M459.5,446.4 L494.0,446.4 L494.0,550.0 L459.5,550.0Z" fill="#fdbf72"/>
<path d="M494.0,446.4 L588.1,446.4 L588.1,550.0 L494.0,550.0Z" fill="#fdbf72"/>
<path d="M454.0,480.6 L491.8,473.9 L491.8,549.5 L433.9,549.5 L442.3,534.4 L449.0,510.8Z" fill="#fdd48e"/>
<path d="M470.8,504.1 L480.9,500.8 L486.0,510.8 L477.6,519.2 L470.8,514.2Z" fill="#fdd48e"/>
<path d="M588.1,448.8 L640.5,448.8 L640.5,496.4 L616.7,501.2 L602.4,486.9 L590.5,472.6Z" fill="#fdaa55"/>
<path d="M590.5,503.6 L616.7,503.6 L640.5,498.8 L640.5,548.8 L585.7,548.8 L588.1,525.0Z" fill="#fdd48e"/>
<path d="M397.6,560.7 L426.2,560.7 L435.7,572.6 L416.7,570.2 L402.4,565.5Z" fill="#fdbf72"/>
<path d="M391.3,555.1 L491.2,555.1 L491.2,645.0 L470.0,628.8 L449.8,612.7 L429.7,604.6 L411.5,590.5 L399.4,576.3Z" fill="#fdbf72"/>
<path d="M431.7,570.3 L451.9,566.2 L472.0,572.3 L490.2,580.4 L490.2,624.8 L472.0,620.7 L451.9,606.6 L435.7,592.5Z" fill="#fdaa55"/>
<path d="M495.2,560.0 L621.4,560.0 L621.4,660.0 L495.2,660.0Z" fill="#fdbf72"/>
<path d="M497.6,574.3 L531.0,569.5 L535.7,607.6 L526.2,638.6 L502.4,638.6 L497.6,607.6Z" fill="#fdaa55"/>
<path d="M178.6,448.8 L197.6,446.4 L204.8,453.6 L197.6,470.2 L185.7,472.6 L179.8,463.1ZM228.6,460.7 L245.2,463.1 L242.9,477.4 L231.0,475.0ZM331.0,456.0 L350.0,451.2 L364.3,463.1 L359.5,482.1 L340.5,486.9 L328.6,477.4ZM266.7,451.2 L292.9,451.2 L316.7,475.0 L314.3,503.6 L302.4,525.0 L283.3,520.2 L266.7,496.4ZM316.7,525.0 L335.7,532.1 L354.8,525.0 L376.2,525.0 L388.1,515.5 L388.1,544.0 L373.8,539.3 L359.5,541.7 L345.2,551.2 L331.0,546.4 L316.7,541.7ZM389.3,422.6 L451.2,422.6 L451.2,446.4 L459.5,446.4 L459.5,550.0 L389.3,550.0ZM459.5,446.4 L494.0,446.4 L494.0,550.0 L459.5,550.0ZM494.0,446.4 L588.1,446.4 L588.1,550.0 L494.0,550.0ZM454.0,480.6 L491.8,473.9 L491.8,549.5 L433.9,549.5 L442.3,534.4 L449.0,510.8ZM470.8,504.1 L480.9,500.8 L486.0,510.8 L477.6,519.2 L470.8,514.2ZM588.1,448.8 L640.5,448.8 L640.5,496.4 L616.7,501.2 L602.4,486.9 L590.5,472.6ZM590.5,503.6 L616.7,503.6 L640.5,498.8 L640.5,548.8 L585.7,548.8 L588.1,525.0ZM397.6,560.7 L426.2,560.7 L435.7,572.6 L416.7,570.2 L402.4,565.5ZM391.3,555.1 L491.2,555.1 L491.2,645.0 L470.0,628.8 L449.8,612.7 L429.7,604.6 L411.5,590.5 L399.4,576.3ZM431.7,570.3 L451.9,566.2 L472.0,572.3 L490.2,580.4 L490.2,624.8 L472.0,620.7 L451.9,606.6 L435.7,592.5ZM495.2,560.0 L621.4,560.0 L621.4,660.0 L495.2,660.0ZM497.6,574.3 L531.0,569.5 L535.7,607.6 L526.2,638.6 L502.4,638.6 L497.6,607.6Z" fill="#000" filter="url(#texsw)"/>
<path d="M206.0,448.8 L219.0,445.2 L228.6,456.0 L234.5,472.6 L245.2,491.7 L254.8,510.7 L264.3,527.4 L278.6,548.8 L292.9,567.9 L304.8,589.3 L302.4,606.0 L283.3,613.1 L266.7,601.2 L254.8,582.1 L245.2,565.5 L233.3,546.4 L221.4,527.4 L214.3,508.3 L207.1,491.7 L202.4,472.6 L202.4,458.3Z" fill="#998508"/>
<path d="M209.5,453.6 L219.0,448.8 L226.2,458.3 L231.0,472.6 L240.5,491.7 L250.0,510.7 L259.5,527.4 L273.8,548.8 L288.1,567.9 L297.6,586.9 L292.9,601.2 L278.6,606.0 L269.0,596.4 L259.5,579.8 L250.0,563.1 L238.1,544.0 L226.2,525.0 L219.0,508.3 L211.9,491.7 L207.1,472.6 L206.0,460.7Z" fill="#ddd700"/>
<path d="M215.5,472.6 L221.4,470.2 L226.7,482.1 L229.0,494.0 L221.9,496.4 L217.1,484.5Z" fill="#ffff00"/>
<path d="M240.5,527.4 L250.0,525.0 L264.3,544.0 L283.3,567.9 L291.0,586.9 L283.3,591.7 L269.0,577.4 L254.8,558.3 L242.9,539.3Z" fill="#ffff00"/>
<path d="M269.0,586.9 L283.3,584.5 L289.3,596.4 L283.3,604.8 L271.4,602.4Z" fill="#55cf0a"/>
<path d="M254.8,491.7 L264.3,496.4 L278.6,515.5 L292.9,534.5 L304.8,558.3 L311.9,577.4 L307.1,591.7 L297.6,589.3 L292.9,572.6 L283.3,553.6 L273.8,534.5 L261.9,515.5 L252.4,501.2Z" fill="#f59999"/>
<path d="M264.3,503.6 L273.8,510.7 L285.7,529.8 L283.3,534.5 L271.4,520.2 L261.9,508.3Z" fill="#cb8f85"/>
<path d="M197.6,496.4 L209.5,494.0 L216.7,510.7 L221.4,529.8 L214.3,532.1 L204.8,515.5Z" fill="#998508"/>
<path d="M228.6,567.9 L240.5,565.5 L254.8,586.9 L261.9,606.0 L252.4,608.3 L240.5,591.7Z" fill="#998508"/>
<path d="M302.4,534.5 L316.7,544.0 L331.0,548.8 L345.2,553.6 L359.5,544.0 L373.8,541.7 L388.1,548.8 L388.1,558.3 L378.6,553.6 L364.3,558.3 L350.0,563.1 L331.0,558.3 L316.7,558.3 L307.1,548.8Z" fill="#998508"/>
<path d="M311.9,552.4 L331.0,554.8 L350.0,558.3 L364.3,554.8 L378.6,551.2 L388.1,554.8 L388.1,561.9 L373.8,563.1 L359.5,566.7 L340.5,565.5 L321.4,561.9Z" fill="#ddd700"/>
<path d="M316.7,559.5 L335.7,563.1 L354.8,565.5 L373.8,561.9 L388.1,559.5 L388.1,582.1 L384.5,577.4 L373.8,577.4 L376.2,603.6 L364.3,591.7 L350.0,579.8 L335.7,572.6Z" fill="#7fdf05"/>
<path d="M390.2,420.9 L449.0,420.9 L449.0,446.1 L454.0,460.4 L449.0,467.1 L442.3,465.5 L437.2,453.7 L432.2,440.3 L420.4,430.2 L403.6,426.8 L390.2,428.5Z" fill="#f59999"/>
<path d="M390.2,420.9 L427.1,420.9 L420.4,428.5 L403.6,426.0 L390.2,427.6Z" fill="#f4cccc"/>
<path d="M442.3,465.5 L454.0,460.4 L457.4,473.9 L454.0,487.3 L449.0,500.8 L445.6,514.2 L440.6,527.6 L430.5,536.1 L417.1,542.8 L412.0,537.7 L423.8,527.6 L432.2,514.2 L437.2,497.4 L440.6,480.6Z" fill="#f59999"/>
<path d="M450.7,447.8 L491.8,447.8 L491.8,465.5 L484.3,475.5 L470.8,477.2 L460.8,473.9 L454.0,467.1 L449.8,460.4Z" fill="#f59999"/>
<path d="M449.0,507.5 L464.1,494.0 L477.6,492.4 L491.8,490.7 L491.8,510.8 L487.6,524.3 L477.6,534.4 L470.8,549.5 L442.3,549.5 L449.0,537.7 L454.0,524.3Z" fill="#998508"/>
<path d="M464.1,497.4 L474.2,495.7 L480.9,499.1 L477.6,504.1 L470.8,504.1 L467.5,510.8 L474.2,517.6 L470.8,527.6 L464.1,534.4 L460.8,544.5 L450.7,547.8 L454.0,534.4 L457.4,520.9 L454.0,514.2 L450.7,517.6 L449.0,510.8 L457.4,507.5Z" fill="#775d0a"/>
<path d="M484.3,492.4 L491.8,490.7 L491.8,507.5 L486.0,504.1Z" fill="#775d0a"/>
<path d="M475.9,483.9 L484.3,482.3 L486.0,494.0 L479.2,495.7Z" fill="#f59999"/>
<path d="M370.0,539.4 L386.8,537.7 L386.8,549.5 L370.0,559.9Z" fill="#bbaf04"/>
<path d="M506.6,448.2 L573.2,447.2 L577.3,460.3 L575.2,476.4 L581.3,488.5 L587.4,498.6 L589.4,510.7 L581.3,514.8 L579.3,518.8 L585.3,526.9 L586.3,541.0 L581.3,555.2 L585.3,571.3 L579.3,589.5 L567.2,591.5 L559.1,579.4 L549.0,569.3 L536.9,563.2 L526.8,551.1 L514.7,547.1 L504.6,535.0 L500.6,518.8 L496.5,500.6 L508.6,496.6 L520.7,490.6 L526.8,480.5 L520.7,472.4 L508.6,464.3Z" fill="#f59999"/>
<path d="M607.1,525.0 L616.7,520.2 L632.1,522.6 L623.8,532.1 L609.5,534.5Z" fill="#775d0a"/>
<path d="M411.9,598.8 L426.2,601.2 L435.7,615.5 L431.0,625.0 L416.7,615.5Z" fill="#775d0a"/>
<path d="M388.1,577.4 L402.4,572.6 L411.9,586.9 L416.7,606.0 L407.1,615.5 L397.6,606.0 L388.1,596.4Z" fill="#a6ef00"/>
<path d="M300.5,560.2 L318.6,552.1 L334.8,564.2 L355.0,580.4 L373.1,598.5 L379.2,616.7 L382.2,624.8 L375.2,636.9 L373.1,653.0 L375.2,661.1 L322.7,669.2 L318.6,659.1 L298.4,636.9 L278.3,624.8 L250.0,616.7 L250.0,596.5 L270.2,600.6 L290.4,592.5 L302.5,580.4Z" fill="#a6ef00"/>
<path d="M250.0,596.5 L262.1,600.6 L274.2,598.5 L290.4,592.5 L300.5,580.4 L300.5,564.2 L316.6,580.4 L310.6,592.5 L290.4,606.6 L270.2,612.7 L250.0,610.6Z" fill="#bbaf04"/>
<path d="M290.4,606.6 L300.5,598.5 L316.6,596.5 L330.7,600.6 L326.7,610.6 L310.6,616.7 L296.4,614.7Z" fill="#ddd700"/>
<path d="M324.7,622.8 L332.8,621.8 L334.8,629.8 L326.7,630.8Z" fill="#f59999"/>
<path d="M300.5,570.3 L316.6,566.2 L334.8,580.4 L350.9,592.5 L363.0,606.6 L355.0,612.7 L338.8,600.6 L322.7,590.5 L306.5,584.4Z" fill="#55cf0a"/>
<path d="M316.6,586.4 L330.7,588.4 L338.8,600.6 L330.7,606.6 L318.6,600.6Z" fill="#bbaf04"/>
<path d="M270.2,620.7 L298.4,628.8 L316.6,645.0 L320.6,661.1 L318.6,661.1 L298.4,636.9 L278.3,624.8Z" fill="#7fdf05"/>
<path d="M389.3,554.1 L395.3,576.3 L391.3,592.5 L403.4,606.6 L423.6,620.7 L443.8,628.8 L464.0,645.0 L490.2,661.1 L491.2,700.5 L451.9,700.5 L431.7,690.4 L373.1,669.2 L375.2,653.0 L381.2,649.0 L379.2,636.9 L379.2,616.7 L375.2,600.6 L375.2,578.4 L387.3,576.3Z" fill="#a6ef00"/>
<path d="M387.3,628.8 L403.4,624.8 L415.5,634.9 L403.4,647.0 L391.3,649.0Z" fill="#ccff00"/>
<path d="M392.3,593.5 L404.4,607.6 L424.6,621.8 L444.8,630.2 L465.0,646.6 L490.2,662.3 L490.2,657.1 L467.0,640.9 L446.8,624.8 L426.6,616.3 L406.4,602.2 L394.3,588.0 L389.3,564.2 L387.3,576.3Z" fill="#ffff00"/>
<path d="M394.3,588.0 L406.4,602.2 L426.6,616.3 L446.8,624.8 L467.0,640.9 L490.2,657.1 L490.2,651.0 L469.0,634.9 L448.8,618.7 L428.6,610.2 L409.5,596.1 L397.4,581.4 L391.3,556.1 L389.3,560.2Z" fill="#998508"/>
<path d="M431.7,640.9 L447.8,645.0 L464.0,657.1 L476.1,669.2 L472.0,681.3 L459.9,673.2 L447.8,661.1 L435.7,653.0Z" fill="#7fdf05"/>
<path d="M455.9,681.3 L472.0,677.3 L488.2,689.4 L490.2,700.5 L459.9,700.5Z" fill="#ffff00"/>
<path d="M422.6,661.1 L429.7,659.1 L431.7,669.2 L425.6,681.3 L419.6,679.3Z" fill="#ccff00"/>
<path d="M391.3,556.1 L407.4,557.2 L411.5,566.2 L403.4,570.3 L395.3,566.2Z" fill="#998508"/>
<path d="M474.1,556.1 L490.2,556.1 L490.2,570.3 L480.1,568.3Z" fill="#775d0a"/>
<path d="M432.7,592.5 L439.7,594.5 L443.8,610.6 L437.7,608.6Z" fill="#f59999"/>
<path d="M478.1,626.8 L490.2,626.8 L490.2,640.9 L480.1,636.9Z" fill="#f59999"/>
<path d="M425.6,560.2 L431.7,559.2 L432.7,568.3 L427.6,569.3Z" fill="#f59999"/>
<path d="M435.6,566.2 L448.4,564.1 L458.0,576.9 L468.6,589.7 L481.4,596.0 L493.1,608.8 L491.0,619.5 L476.1,614.1 L462.3,607.8 L450.5,597.1 L441.0,585.4Z" fill="#998508"/>
<path d="M439.3,568.8 L446.9,567.3 L455.9,579.4 L466.5,592.2 L479.3,598.6 L489.5,611.0 L487.8,616.3 L475.0,611.0 L462.7,604.6 L452.0,594.3 L443.5,583.7Z" fill="#775d0a"/>
<path d="M392.0,553.4 L423.9,553.4 L430.3,562.0 L415.4,559.8 L402.6,566.2 L394.1,562.0Z" fill="#998508"/>
<path d="M432.4,555.6 L458.0,553.4 L453.7,566.2 L441.0,564.1Z" fill="#998508"/>
<path d="M475.0,553.4 L491.0,553.4 L488.9,572.6 L479.3,564.1Z" fill="#998508"/>
<path d="M413.3,600.3 L423.9,598.2 L432.4,611.0 L426.0,619.5 L417.5,613.1Z" fill="#998508"/>
<path d="M531.0,602.9 L545.2,588.6 L554.8,591.0 L552.4,607.6 L546.4,626.7 L541.7,643.3 L531.0,657.6 L523.8,655.2 L533.3,636.2 L535.7,617.1Z" fill="#998508"/>
<path d="M535.7,564.8 L550.0,562.4 L552.4,576.7 L542.9,581.4Z" fill="#f59999"/>
<path d="M559.5,569.5 L573.8,567.1 L576.2,586.2 L566.7,588.6Z" fill="#f59999"/>
<path d="M559.5,645.7 L569.0,643.3 L571.4,667.1 L563.1,667.1Z" fill="#f59999"/>
<path d="M592.5,577.7 L613.5,573.9 L622.0,568.1 L622.0,592.9 L609.6,594.8 L594.4,592.9Z" fill="#775d0a"/>
<path d="M573.4,596.7 L586.8,587.2 L594.4,592.9 L609.6,594.8 L622.0,592.9 L622.0,615.8 L605.8,617.7 L594.4,613.9 L579.1,617.7 L573.4,610.1Z" fill="#998508"/>
<path d="M575.3,613.9 L594.4,613.9 L605.8,617.7 L622.0,615.8 L622.0,633.0 L602.0,634.9 L586.8,629.1 L575.3,625.3Z" fill="#bbaf04"/>
<path d="M577.2,625.3 L586.8,629.1 L602.0,634.9 L622.0,633.0 L622.0,648.2 L605.8,646.3 L590.6,644.4 L579.1,636.8Z" fill="#ddd700"/>
<path d="M495.2,660.0 L511.9,664.8 L531.0,660.0 L550.0,655.2 L566.7,671.9 L569.0,679.0 L545.2,683.8 L511.9,688.6 L495.2,699.3Z" fill="#ffff00"/>
<path d="M579.1,636.8 L590.6,644.4 L605.8,646.3 L622.0,648.2 L622.0,667.3 L609.6,659.6 L594.4,655.8 L586.8,663.5 L579.1,674.9 L571.5,671.1 L575.3,652.0Z" fill="#ffff00"/>
<path d="M497.6,660.0 L509.5,662.4 L519.0,655.2 L523.8,657.6 L514.3,667.1 L502.4,667.1Z" fill="#bbaf04"/>
<path d="M511.9,679.0 L531.0,674.3 L545.2,664.8 L554.8,671.9 L559.5,676.7 L545.2,682.6 L511.9,687.4Z" fill="#55cf0a"/>
<path d="M590.6,655.8 L609.6,659.6 L622.0,667.3 L622.0,683.5 L586.8,683.5 L586.8,671.1Z" fill="#55cf0a"/>
<path d="M545.2,683.8 L621.4,682.6 L631.0,702.9 L642.9,726.7 L631.0,741.0 L616.7,764.8 L597.6,750.5 L583.3,731.4 L569.0,712.4Z" fill="#a6ef00"/>
<path d="M588.1,712.4 L600.0,710.0 L604.8,726.7 L595.2,731.4Z" fill="#ffff00"/>
<path d="M554.8,688.6 L569.0,688.6 L583.3,707.6 L578.6,712.4 L564.3,702.9Z" fill="#ffff00"/>
<path d="M316.7,559.5 L335.7,563.1 L354.8,565.5 L373.8,561.9 L388.1,559.5 L388.1,582.1 L384.5,577.4 L373.8,577.4 L376.2,603.6 L364.3,591.7 L350.0,579.8 L335.7,572.6ZM388.1,577.4 L402.4,572.6 L411.9,586.9 L416.7,606.0 L407.1,615.5 L397.6,606.0 L388.1,596.4ZM300.5,560.2 L318.6,552.1 L334.8,564.2 L355.0,580.4 L373.1,598.5 L379.2,616.7 L382.2,624.8 L375.2,636.9 L373.1,653.0 L375.2,661.1 L322.7,669.2 L318.6,659.1 L298.4,636.9 L278.3,624.8 L250.0,616.7 L250.0,596.5 L270.2,600.6 L290.4,592.5 L302.5,580.4ZM270.2,620.7 L298.4,628.8 L316.6,645.0 L320.6,661.1 L318.6,661.1 L298.4,636.9 L278.3,624.8ZM389.3,554.1 L395.3,576.3 L391.3,592.5 L403.4,606.6 L423.6,620.7 L443.8,628.8 L464.0,645.0 L490.2,661.1 L491.2,700.5 L451.9,700.5 L431.7,690.4 L373.1,669.2 L375.2,653.0 L381.2,649.0 L379.2,636.9 L379.2,616.7 L375.2,600.6 L375.2,578.4 L387.3,576.3ZM431.7,640.9 L447.8,645.0 L464.0,657.1 L476.1,669.2 L472.0,681.3 L459.9,673.2 L447.8,661.1 L435.7,653.0ZM545.2,683.8 L621.4,682.6 L631.0,702.9 L642.9,726.7 L631.0,741.0 L616.7,764.8 L597.6,750.5 L583.3,731.4 L569.0,712.4Z" fill="#000" filter="url(#texgr)"/>
<path d="M254.8,491.7 L264.3,496.4 L278.6,515.5 L292.9,534.5 L304.8,558.3 L311.9,577.4 L307.1,591.7 L297.6,589.3 L292.9,572.6 L283.3,553.6 L273.8,534.5 L261.9,515.5 L252.4,501.2ZM390.2,420.9 L449.0,420.9 L449.0,446.1 L454.0,460.4 L449.0,467.1 L442.3,465.5 L437.2,453.7 L432.2,440.3 L420.4,430.2 L403.6,426.8 L390.2,428.5ZM442.3,465.5 L454.0,460.4 L457.4,473.9 L454.0,487.3 L449.0,500.8 L445.6,514.2 L440.6,527.6 L430.5,536.1 L417.1,542.8 L412.0,537.7 L423.8,527.6 L432.2,514.2 L437.2,497.4 L440.6,480.6ZM450.7,447.8 L491.8,447.8 L491.8,465.5 L484.3,475.5 L470.8,477.2 L460.8,473.9 L454.0,467.1 L449.8,460.4ZM475.9,483.9 L484.3,482.3 L486.0,494.0 L479.2,495.7ZM506.6,448.2 L573.2,447.2 L577.3,460.3 L575.2,476.4 L581.3,488.5 L587.4,498.6 L589.4,510.7 L581.3,514.8 L579.3,518.8 L585.3,526.9 L586.3,541.0 L581.3,555.2 L585.3,571.3 L579.3,589.5 L567.2,591.5 L559.1,579.4 L549.0,569.3 L536.9,563.2 L526.8,551.1 L514.7,547.1 L504.6,535.0 L500.6,518.8 L496.5,500.6 L508.6,496.6 L520.7,490.6 L526.8,480.5 L520.7,472.4 L508.6,464.3ZM324.7,622.8 L332.8,621.8 L334.8,629.8 L326.7,630.8ZM432.7,592.5 L439.7,594.5 L443.8,610.6 L437.7,608.6ZM478.1,626.8 L490.2,626.8 L490.2,640.9 L480.1,636.9ZM425.6,560.2 L431.7,559.2 L432.7,568.3 L427.6,569.3ZM535.7,564.8 L550.0,562.4 L552.4,576.7 L542.9,581.4ZM559.5,569.5 L573.8,567.1 L576.2,586.2 L566.7,588.6ZM559.5,645.7 L569.0,643.3 L571.4,667.1 L563.1,667.1Z" fill="#000" filter="url(#texnw)"/>
<path d="M262.1,606.6 L278.3,604.6 L290.4,616.7 L310.6,620.7 L330.7,622.8 L334.8,628.8 L318.6,628.8 L300.5,624.8 L280.3,620.7 L262.1,614.7Z" fill="#fdbf72"/>
<path d="M316.6,634.9 L330.7,630.8 L338.8,645.0 L344.9,661.1 L338.8,667.2 L330.7,663.5 L322.7,649.0Z" fill="#fdbf72"/>
<path d="M451.9,653.0 L459.9,649.0 L468.0,661.1 L464.0,673.2 L455.9,669.2Z" fill="#fdbf72"/>
<path d="M472.0,669.2 L480.1,665.2 L488.2,681.3 L480.1,689.4Z" fill="#fdbf72"/>
<path d="M286.9,536.9 L292.9,536.9 L300.0,553.6 L302.4,570.2 L296.4,570.2 L291.7,553.6Z" fill="#4d4d4d"/>
<path d="M451.0,448.3 L488.5,448.3 L486.0,455.4 L470.8,460.4 L457.4,458.7 L452.4,463.8 L449.8,457.9Z" fill="#4d4d4d"/>
<path d="M443.9,475.5 L452.4,477.2 L449.0,489.0 L443.9,497.4 L441.4,487.3Z" fill="#4d4d4d"/>
<path d="M433.9,504.1 L442.3,505.8 L443.9,517.6 L437.2,526.0 L427.1,531.0 L430.5,519.2Z" fill="#4d4d4d"/>
<path d="M528.8,449.2 L545.0,448.2 L565.2,448.2 L569.2,460.3 L567.2,476.4 L573.2,488.5 L579.3,498.6 L581.3,508.7 L573.2,510.7 L569.2,516.8 L577.3,524.9 L579.3,539.0 L575.2,551.1 L561.1,559.2 L549.0,561.2 L540.9,551.1 L528.8,543.0 L516.7,539.0 L510.6,530.9 L520.7,524.9 L528.8,516.8 L536.9,506.7 L534.9,496.6 L540.9,488.5 L534.9,480.5 L526.8,476.4 L528.8,464.3Z" fill="#4d4d4d"/>
<path d="M510.6,496.6 L524.8,492.6 L530.8,496.6 L520.7,500.6 L512.7,501.7Z" fill="#4d4d4d"/>
<path d="M510.6,450.2 L526.8,449.2 L528.8,464.3 L520.7,470.4 L512.7,460.3Z" fill="#4d4d4d"/>
<path d="M563.1,571.3 L569.2,569.3 L571.2,583.4 L565.2,585.4Z" fill="#4d4d4d"/>
<path d="M344.9,616.7 L359.0,614.7 L371.1,620.7 L379.2,624.8 L375.2,636.9 L373.1,653.0 L376.2,661.1 L346.9,664.1 L338.8,645.0 L334.8,632.9 L346.9,628.8Z" fill="#3f7d44"/>
<path d="M334.8,632.9 L344.9,636.9 L355.0,649.0 L373.1,657.1 L376.2,661.1 L346.9,664.1 L340.8,649.0Z" fill="#67a86d"/>
<path d="M363.0,657.5 L376.8,656.7 L376.8,661.9 L363.0,662.7Z" fill="#8fd396"/>
<path d="M375.2,663.1 L379.2,653.0 L391.3,653.0 L403.4,649.0 L411.5,640.9 L423.6,634.9 L435.7,636.9 L443.8,645.0 L451.9,665.2 L455.9,679.3 L443.8,681.3 L431.7,690.4 L373.1,669.2Z" fill="#3f7d44"/>
<path d="M381.2,620.7 L389.3,620.7 L391.3,628.8 L387.3,640.9 L381.2,649.0 L379.2,636.9Z" fill="#3f7d44"/>
<path d="M375.2,661.1 L391.3,655.1 L403.4,653.0 L411.5,661.1 L409.5,677.3 L395.3,679.3 L373.5,669.2Z" fill="#67a86d"/>
<path d="M421.6,653.0 L427.6,640.9 L437.7,638.9 L444.8,649.0 L449.8,665.2 L454.9,679.3 L443.8,679.3 L431.7,673.2 L423.6,665.2Z" fill="#17521b"/>
<path d="M528.8,449.2 L545.0,448.2 L565.2,448.2 L569.2,460.3 L567.2,476.4 L573.2,488.5 L579.3,498.6 L581.3,508.7 L573.2,510.7 L569.2,516.8 L577.3,524.9 L579.3,539.0 L575.2,551.1 L561.1,559.2 L549.0,561.2 L540.9,551.1 L528.8,543.0 L516.7,539.0 L510.6,530.9 L520.7,524.9 L528.8,516.8 L536.9,506.7 L534.9,496.6 L540.9,488.5 L534.9,480.5 L526.8,476.4 L528.8,464.3Z" fill="#000" filter="url(#texg)"/>
</g></g>
<g fill="none" stroke="#000" stroke-width="4.1" stroke-linejoin="round" stroke-linecap="round">
<path d="M205.0,236.0 L785.0,236.0 L785.0,227.0 L795.0,227.0 L796.0,229.4 L797.2,231.8 L797.0,237.0 L798.9,240.0 L800.0,243.3 L803.5,244.9 L807.3,245.7 L815.0,246.7 L816.8,244.3 L819.7,243.9 L822.2,245.3 L825.0,245.0 L831.2,245.4 L834.3,246.2 L836.7,248.3 L839.0,246.8 L841.1,251.1 L845.7,252.4 L852.4,252.0 L855.8,253.8 L859.1,255.8 L862.1,258.2 L865.9,258.7 L868.8,257.9 L871.4,256.3 L873.9,254.4 L877.1,254.2 L880.2,256.5 L883.8,258.0 L886.5,259.3 L889.2,260.4 L892.3,260.4 L895.0,259.1 L898.1,259.2 L900.4,261.3 L906.2,261.8 L901.3,262.8 L899.2,264.2 L897.3,265.9 L895.5,268.8 L892.1,269.7 L888.8,269.6 L886.1,271.5 L883.0,272.7 L880.5,275.0 L877.1,275.6 L874.8,278.2 L871.0,278.7 L868.4,281.6 L866.3,284.6 L863.6,287.2 L861.0,288.4 L858.3,289.4 L855.6,290.9 L854.7,293.9 L850.9,293.9 L847.9,296.1 L850.0,293.8 L853.1,293.0 L859.1,293.9 L863.4,291.7 L868.1,291.7 L872.5,292.1 L876.0,289.4 L879.8,292.3 L878.8,294.6 L877.5,296.8 L880.2,296.2 L882.7,295.0 L885.7,297.0 L887.8,300.0 L890.1,298.5 L892.6,297.5 L894.8,296.0 L897.3,295.0 L900.2,294.3 L903.0,293.2 L906.2,292.8 L908.5,290.5 L911.9,290.7 L914.5,288.6 L917.7,287.6 L919.7,284.9 L922.7,284.6 L925.5,283.3 L926.3,280.3 L928.7,278.2 L933.6,278.3 L937.6,275.5 L943.2,276.4 L942.1,279.3 L937.8,280.2 L935.4,283.8 L932.3,285.3 L930.9,288.3 L929.1,292.8 L931.8,291.6 L934.3,290.1 L937.7,293.3 L942.1,295.0 L946.1,296.6 L948.8,300.0 L951.9,301.8 L955.6,301.7 L964.5,301.7 L969.1,300.4 L973.5,298.4 L975.8,296.3 L978.9,296.2 L984.7,296.1 L987.3,298.0 L990.5,297.3 L992.8,295.2 L995.9,295.0 L1001.5,295.0 L1002.6,299.5 L1004.4,301.8 L1007.1,302.9 L1010.4,302.0 L1013.9,301.7 L1016.2,303.5 L1017.2,306.2 L1019.4,308.7 L1020.6,311.8 L1023.9,315.2 L1016.1,314.3 L1007.1,314.1 L1004.0,312.5 L1000.4,312.5 L991.4,313.0 L986.6,312.6 L982.5,315.2 L980.4,316.7 L978.7,318.7 L973.5,318.6 L970.4,320.5 L966.8,319.7 L964.9,317.6 L962.3,316.3 L960.2,317.8 L957.8,318.6 L958.9,321.9 L955.0,324.4 L953.3,328.7 L949.7,331.1 L948.8,335.4 L945.5,337.6 L943.8,339.9 L942.1,342.1 L939.0,344.7 L938.7,348.8 L938.0,351.3 L936.5,353.3 L938.1,348.9 L942.1,346.6 L945.8,343.5 L948.8,339.9 L950.2,335.3 L954.4,333.1 L956.4,330.0 L959.6,328.2 L958.9,330.7 L957.8,333.1 L955.2,336.8 L953.3,341.0 L952.3,345.6 L948.8,348.8 L949.0,354.0 L946.6,355.3 L945.5,357.8 L945.1,362.5 L943.2,366.8 L940.3,370.8 L941.0,375.7 L940.0,378.6 L938.5,381.1 L939.3,384.0 L939.9,387.0 L940.3,392.6 L941.0,398.2 L940.8,403.8 L941.2,406.7 L942.1,409.4 L943.0,413.9 L944.3,418.3 L945.7,421.9 L947.7,425.1 L950.3,428.4 L954.4,429.1 L962.3,428.4 L965.1,426.2 L967.9,423.9 L969.9,419.9 L972.4,416.1 L974.7,411.9 L975.3,407.1 L975.7,398.2 L973.6,393.9 L973.5,389.2 L971.0,385.0 L970.1,380.2 L970.9,375.3 L969.4,373.2 L967.9,371.3 L967.9,364.5 L969.2,360.1 L970.1,355.6 L970.4,351.5 L973.5,348.8 L975.6,346.4 L978.0,344.3 L981.5,342.6 L984.7,340.3 L986.9,342.4 L987.0,345.5 L989.6,344.8 L990.1,337.6 L992.1,335.8 L993.7,333.6 L996.3,330.3 L998.2,326.4 L998.8,323.0 L1001.5,320.8 L1005.5,320.7 L1009.4,319.7 L1012.8,320.7 L1016.1,321.9 L1020.3,324.3 L1025.1,325.3 L1028.7,327.1 L1031.8,329.8 L1033.3,334.1 L1036.3,337.6 L1035.9,342.2 L1037.4,346.6 L1038.2,351.5 L1037.4,354.1 L1035.2,355.6 L1032.8,359.8 L1031.8,364.5 L1028.4,366.4 L1027.3,370.1 L1025.4,372.3 L1022.8,373.5 L1024.6,378.0 L1029.6,378.4 L1031.7,375.0 L1034.0,371.7 L1037.0,369.5 L1039.6,366.8 L1042.4,365.8 L1045.2,365.7 L1047.7,367.1 L1049.7,369.0 L1051.6,373.3 L1052.0,378.0 L1052.6,381.4 L1053.9,384.6 L1054.2,391.4 L1054.4,396.0 L1053.1,400.4 L1051.1,402.9 L1048.6,404.9 L1047.2,408.1 L1047.5,411.6 L1046.2,414.8 L1043.0,416.1 L1041.1,419.4 L1039.6,422.8 L1037.5,425.7 L1036.7,429.1 L1035.0,426.7 L1037.9,428.7 L1040.0,431.7 L1043.6,432.0 L1046.7,434.0 L1049.3,434.4 L1051.5,435.8 L1056.7,435.0 L1058.9,433.3 L1061.2,432.0 L1066.7,431.7 L1069.9,429.3 L1073.9,429.5 L1076.6,426.8 L1080.0,425.0 L1083.7,424.2 L1086.3,421.5 L1089.8,420.6 L1093.3,420.0 L1097.7,418.0 L1102.5,418.7 L1105.9,415.5 L1110.0,413.3 L1107.2,413.0 L1104.8,414.5 L1102.4,415.8 L1100.0,417.0 L1101.8,414.0 L1104.9,412.8 L1108.1,412.2 L1111.2,411.3 L1114.8,409.2 L1116.9,405.6 L1121.1,405.7 L1124.7,403.5 L1126.3,400.6 L1129.1,399.0 L1127.9,395.8 L1128.0,392.3 L1127.0,389.6 L1124.7,387.8 L1126.9,384.4 L1133.7,384.5 L1137.3,384.6 L1140.4,382.9 L1144.7,382.2 L1148.5,384.3 L1152.6,385.3 L1156.1,387.8 L1161.9,388.1 L1164.3,386.3 L1167.3,385.6 L1169.7,383.6 L1172.5,382.0 L1175.4,380.8 L1178.5,380.0 L1181.1,378.1 L1184.1,376.6 L1186.2,374.2 L1186.3,371.0 L1183.8,368.7 L1183.0,365.4 L1186.3,362.0 L1188.6,360.0 L1188.8,357.0 L1191.8,357.0 L1194.2,355.3 L1197.1,354.0 L1200.1,353.0 L1202.7,350.8 L1203.1,347.4 L1205.8,345.9 L1208.9,345.8 L1211.0,343.6 L1212.1,340.7 L1216.6,339.6 L1245.7,340.0 L1283.9,339.6 L1285.8,337.1 L1286.1,334.0 L1290.8,333.3 L1295.1,331.3 L1298.5,329.3 L1301.8,327.3 L1303.4,323.5 L1306.3,320.5 L1307.6,318.1 L1309.6,316.1 L1309.3,312.0 L1310.8,308.2 L1311.9,304.6 L1315.2,302.6 L1317.3,298.2 L1318.6,293.6 L1320.8,289.7 L1324.2,286.9 L1325.8,284.2 L1328.8,283.3 L1330.8,281.0 L1330.9,277.9 L1334.3,275.7 L1335.5,278.8 L1337.7,281.3 L1341.2,282.0 L1344.4,280.2 L1349.3,280.6 L1353.4,277.9 L1357.8,279.1 L1359.7,282.8 L1363.5,284.7 L1364.1,304.8 L1364.6,320.5 L1365.5,322.9 L1366.8,325.0 L1369.5,325.2 L1371.3,327.3 L1371.1,330.7 L1372.4,334.0 L1375.1,335.0 L1376.9,337.4 L1378.5,340.0 L1379.1,343.0 L1378.0,346.3 L1375.0,347.6 L1372.4,349.7 L1368.4,351.8 L1364.6,354.2 L1361.3,355.5 L1357.8,356.4 L1355.2,356.7 L1353.4,358.7 L1351.2,357.3 L1348.9,356.4 L1346.3,358.5 L1343.3,359.8 L1341.7,357.8 L1341.0,355.3 L1337.7,358.7 L1334.4,361.3 L1333.2,365.4 L1329.9,367.7 L1326.5,369.9 L1322.7,370.7 L1319.7,373.2 L1317.7,375.2 L1315.2,376.6 L1313.2,380.1 L1309.6,382.2 L1307.3,384.9 L1305.2,387.8 L1303.4,389.7 L1302.9,392.3 L1302.4,394.9 L1300.7,396.8 L1300.7,399.9 L1302.5,403.5 L1301.2,406.6 L1297.1,407.9 L1294.4,410.6 L1294.4,413.3 L1298.0,412.4 L1300.7,414.2 L1301.5,416.8 L1303.4,418.7 L1305.2,423.2 L1306.5,425.4 L1309.7,425.2 L1314.2,424.3 L1317.3,422.1 L1318.0,419.6 L1315.1,417.1 L1311.7,416.6 L1310.8,418.0 L1314.2,419.3 L1316.2,421.1 L1316.0,425.9 L1316.7,429.3 L1314.9,431.4 L1312.7,429.5 L1309.7,429.5 L1306.1,429.2 L1302.5,430.5 L1300.7,432.2 L1298.0,433.0 L1295.3,432.2 L1291.7,429.5 L1290.0,427.0 L1288.2,429.5 L1286.4,433.0 L1282.8,434.8 L1278.3,436.6 L1273.8,437.5 L1266.6,437.3 L1263.3,437.0 L1260.4,438.4 L1254.1,438.6 L1250.1,438.8 L1246.9,441.1 L1244.0,443.0 L1240.6,442.2 L1237.0,443.1 L1233.2,445.4 L1231.3,449.5 L1230.7,454.1 L1227.1,457.0 L1230.7,460.4 L1232.7,464.8 L1233.1,469.4 L1231.6,473.8 L1230.4,477.1 L1229.4,480.5 L1227.4,484.1 L1224.9,487.3 L1222.7,490.1 L1220.4,492.9 L1217.5,495.1 L1215.9,498.5 L1213.2,498.3 L1211.4,496.2 L1208.3,494.9 L1207.0,491.7 L1203.6,489.1 L1202.5,485.0 L1200.0,483.3 L1199.1,480.5 L1200.0,483.2 L1202.5,484.4 L1202.5,489.5 L1203.3,494.7 L1205.8,495.9 L1207.0,498.5 L1208.6,502.4 L1210.3,506.3 L1211.0,514.2 L1210.4,520.0 L1209.7,522.9 L1208.1,525.4 L1206.7,527.7 L1205.9,530.2 L1204.0,532.2 L1202.5,534.3 L1200.6,538.0 L1198.0,541.1 L1196.8,545.6 L1193.5,548.9 L1190.8,552.7 L1192.6,555.9 L1194.2,559.5 L1194.6,563.5 L1196.3,566.1 L1198.2,568.5 L1198.0,574.7 L1198.7,580.1 L1200.3,582.3 L1201.3,584.8 L1201.8,591.5 L1200.7,594.9 L1198.0,597.1 L1194.6,600.0 L1191.9,603.5 L1187.6,605.0 L1184.5,608.3 L1182.0,609.7 L1180.4,612.2 L1177.8,613.4 L1175.6,615.1 L1177.7,612.0 L1180.5,609.5 L1183.3,607.0 L1186.1,604.5 L1182.2,606.7 L1179.4,610.1 L1175.0,612.1 L1170.4,613.5 L1165.6,614.4 L1161.4,616.8 L1158.2,619.7 L1154.7,622.4 L1153.2,626.3 L1150.2,629.1 L1149.0,631.4 L1148.0,633.6 L1139.0,633.6 L1135.4,634.7 L1132.3,637.0 L1131.5,639.7 L1130.4,642.2 L1128.1,643.7 L1125.6,644.8 L1122.9,647.1 L1122.2,650.4 L1118.3,652.2 L1116.6,656.1 L1113.9,657.3 L1112.5,659.9 L1109.7,660.7 L1107.6,662.8 L1105.8,665.0 L1103.8,667.1 L1101.7,669.2 L1098.7,669.5 L1094.7,670.8 L1091.9,674.0 L1089.3,676.5 L1087.4,679.6 L1084.6,682.4 L1084.1,686.3 L1082.0,688.3 L1080.5,690.8 L1079.6,696.4 L1077.0,700.6 L1076.2,705.4 L1075.4,709.8 L1075.1,714.3 L1075.1,721.1 L1074.3,718.6 L1077.0,724.1 L1080.6,729.2 L1083.9,734.9 L1082.9,741.4 L1090.0,767.1 L1091.4,772.4 L1095.0,776.5 L1095.7,787.1 L1099.9,790.9 L1100.7,796.5 L1101.4,807.1 L1102.3,811.1 L1105.4,813.7 L1105.1,821.4 L1105.7,832.9 L1106.6,838.8 L1106.6,842.0 L1104.3,844.3 L1103.6,847.5 L1101.1,849.6 L1101.4,855.7 L1097.7,857.7 L1095.7,861.4 L1090.5,862.1 L1087.8,862.5 L1085.7,864.3 L1084.1,862.0 L1081.4,861.4 L1079.6,857.0 L1077.1,852.9 L1075.2,850.7 L1075.4,847.8 L1073.8,845.6 L1071.4,844.3 L1069.3,840.0 L1067.1,835.7 L1066.5,831.2 L1064.3,827.1 L1062.9,825.0 L1060.7,823.6 L1060.0,818.6 L1059.5,813.5 L1056.9,812.5 L1055.7,810.0 L1052.9,806.0 L1051.4,801.4 L1050.2,797.1 L1048.6,792.9 L1049.5,786.9 L1047.7,784.5 L1047.1,781.4 L1045.4,778.9 L1044.8,775.9 L1045.7,770.0 L1044.7,765.6 L1042.9,761.4 L1041.7,759.1 L1041.0,756.5 L1038.8,754.9 L1037.1,752.9 L1035.3,751.1 L1033.9,748.8 L1032.5,746.6 L1031.4,744.3 L1027.3,741.8 L1025.7,737.1 L1022.1,735.7 L1018.6,734.3 L1015.2,736.0 L1011.0,736.8 L1008.5,740.4 L1005.3,742.4 L1001.8,743.8 L998.3,743.6 L995.1,744.9 L992.5,744.5 L990.6,742.7 L989.5,738.2 L988.2,735.7 L986.1,733.7 L983.4,730.2 L979.4,728.1 L975.1,725.7 L970.4,724.8 L961.4,724.8 L956.9,725.8 L952.5,727.0 L948.0,728.2 L943.5,729.2 L936.8,729.2 L933.3,729.4 L930.0,730.4 L921.1,730.4 L917.5,729.7 L914.3,731.5 L909.9,730.4 L912.2,733.9 L912.1,738.2 L910.9,741.8 L907.6,743.8 L905.9,746.4 L905.4,749.4 L907.7,753.5 L912.1,755.0 L915.5,757.3 L914.3,761.7 L911.0,762.3 L907.6,762.9 L906.4,760.1 L905.4,757.3 L903.5,755.2 L900.9,753.9 L898.7,750.5 L896.7,752.3 L894.2,752.8 L892.4,755.5 L889.7,757.3 L886.2,757.6 L883.0,756.1 L880.0,758.2 L877.4,760.6 L874.2,758.8 L871.7,756.1 L869.1,755.0 L867.3,752.8 L865.6,749.0 L862.8,746.1 L861.2,743.5 L858.3,742.7 L855.4,742.6 L852.7,741.6 L850.1,742.8 L848.2,744.9 L845.4,745.7 L842.6,746.1 L838.5,743.5 L833.6,743.8 L829.2,742.6 L824.7,742.0 L815.7,742.7 L813.8,744.9 L811.2,745.9 L808.7,747.7 L805.7,747.1 L803.7,748.8 L801.5,750.1 L799.7,752.1 L797.1,752.9 L794.6,756.1 L791.4,758.6 L789.1,760.2 L787.7,762.8 L785.7,765.0 L782.9,765.7 L779.4,766.6 L776.0,767.4 L773.5,769.9 L771.4,772.9 L768.4,772.8 L765.8,774.4 L762.7,774.3 L760.0,775.7 L757.8,777.1 L755.6,778.4 L753.2,779.5 L751.4,781.4 L748.8,782.8 L746.0,783.7 L743.9,785.8 L742.9,788.6 L739.3,791.3 L738.6,795.7 L738.0,800.0 L737.1,804.3 L738.8,806.8 L739.2,809.8 L738.6,815.7 L738.2,821.6 L738.7,824.5 L740.0,827.1 L739.3,833.4 L740.3,836.5 L742.9,838.6 L743.7,841.4 L740.8,843.6 L737.1,844.3 L730.8,843.7 L727.9,842.4 L725.7,840.0 L719.4,839.4 L717.2,837.1 L714.3,835.7 L712.8,833.1 L710.0,832.0 L704.3,831.4 L702.1,828.2 L701.4,824.3 L700.3,821.8 L699.9,819.1 L697.7,817.5 L695.7,815.7 L696.2,809.9 L694.2,807.4 L694.3,804.3 L692.4,800.4 L688.7,798.1 L687.2,794.2 L687.1,790.0 L685.1,786.5 L682.7,783.3 L681.9,779.3 L680.0,775.7 L676.8,773.0 L674.5,769.6 L673.4,765.5 L672.9,761.4 L670.8,759.3 L669.9,756.5 L668.7,753.8 L667.1,751.4 L665.1,748.6 L663.6,745.5 L660.4,744.0 L657.1,742.9 L654.3,744.0 L651.2,744.1 L648.6,742.3 L645.7,741.4 L634.3,741.4 L631.4,744.8 L627.1,745.7 L623.1,748.2 L621.6,752.7 L622.3,757.3 L620.0,761.4 L616.2,760.8 L612.9,762.9 L615.0,763.3 L590.0,743.3 L588.6,740.6 L586.1,738.7 L585.3,735.7 L583.3,733.3 L581.5,729.9 L578.8,727.3 L578.2,723.5 L576.7,720.0 L572.3,716.5 L569.7,711.6 L565.4,708.1 L560.0,706.7 L559.1,702.1 L556.8,697.9 L553.5,694.7 L550.0,691.7 L548.0,689.9 L546.0,688.0 L545.0,682.7 L544.6,686.1 L543.3,689.3 L511.7,689.3 L511.7,701.3 L491.7,701.3 L450.0,701.3 L371.7,668.3 L371.7,665.0 L323.3,668.3 L323.1,665.1 L322.0,662.0 L320.3,659.2 L318.3,656.7 L315.0,652.6 L310.7,649.6 L309.2,644.6 L306.7,640.0 L304.0,638.0 L300.7,638.1 L299.0,635.4 L296.7,633.3 L291.8,629.7 L285.7,630.3 L280.1,628.2 L276.7,623.3 L250.0,615.0 L250.0,600.0 L245.3,599.8 L243.1,596.5 L241.9,592.8 L240.9,590.1 L239.4,587.7 L237.4,585.7 L235.2,583.9 L233.7,581.4 L232.4,578.9 L230.1,577.2 L228.5,574.9 L225.5,570.9 L225.1,565.9 L222.8,561.6 L224.0,557.0 L224.1,553.5 L222.9,550.2 L220.8,546.2 L217.3,543.5 L214.6,540.0 L211.7,536.8 L211.6,531.5 L210.2,529.2 L209.4,526.7 L206.3,525.6 L203.8,523.3 L201.2,520.2 L199.3,516.6 L197.3,514.2 L197.4,511.0 L195.0,509.3 L192.6,507.6 L190.9,505.2 L188.2,503.9 L186.7,501.4 L185.9,498.7 L184.7,496.0 L183.9,493.2 L183.6,487.4 L183.6,484.4 L182.2,481.8 L180.9,479.1 L180.3,476.2 L178.5,472.0 L174.7,469.5 L171.3,466.9 L170.2,462.8 L169.8,458.2 L171.3,453.8 L170.8,448.9 L173.5,444.8 L173.3,438.7 L175.7,436.6 L176.9,433.6 L176.9,427.8 L175.0,425.4 L174.7,422.4 L171.8,418.4 L171.3,413.5 L170.9,409.9 L169.1,406.8 L169.5,403.3 L167.9,400.0 L168.0,410.4 L169.8,415.3 L172.4,419.8 L170.7,417.2 L169.5,414.4 L170.2,408.3 L167.8,404.2 L167.9,399.4 L168.6,396.0 L169.1,392.6 L169.1,389.7 L170.5,387.1 L171.3,381.4 L170.7,373.3 L173.1,369.9 L173.5,365.7 L174.1,361.5 L172.5,357.6 L175.4,354.4 L175.8,350.0 L176.8,346.6 L178.5,343.5 L177.9,340.0 L176.9,336.6 L177.8,333.3 L178.0,329.9 L178.0,323.1 L178.7,311.9 L179.1,305.2 L180.5,300.5 L178.0,296.2 L178.2,291.7 L176.9,287.3 L174.4,283.1 L173.5,278.3 L172.7,273.1 L170.9,271.2 L169.1,269.3 L167.8,264.7 L165.7,260.4 L165.5,255.7 L163.5,251.4 L167.1,251.4 L170.4,249.8 L173.4,251.6 L176.9,252.5 L182.5,253.0 L188.1,253.6 L190.7,254.4 L193.1,255.4 L195.9,255.5 L198.2,257.0 L201.6,255.4 L204.9,253.6 L204.9,235.2Z"/>
<path d="M178.7,311.9 L183.5,311.1 L188.1,309.7 L193.2,309.9 L198.2,310.8 L200.2,314.9 L202.7,318.7 L204.5,321.2 L204.9,324.3 L207.1,325.9 L209.8,326.2 L215.0,325.4 L220.8,325.0 L223.2,323.3 L226.2,323.1 L232.9,323.8 L239.7,324.3 L242.2,322.7 L245.1,322.3 L250.9,322.0 L257.1,322.4 L260.4,321.6 L262.1,318.7 L266.1,315.7 L271.1,316.4 L273.9,317.3 L276.9,317.6 L279.5,316.2 L282.3,315.3 L285.2,314.9 L287.8,313.7 L293.5,314.2 L327.1,314.2"/><path d="M325.6,235.2 L325.6,314.2 L328.7,315.7 L331.6,317.5 L333.7,320.5 L336.1,323.1 L333.9,327.4 L335.0,332.1 L333.6,334.9 L332.3,337.8 L330.6,340.4 L329.4,343.3 L327.5,347.5 L323.8,350.0 L322.6,353.4 L321.5,356.8 L322.4,359.1 L323.8,361.3 L328.3,362.4 L327.0,365.0 L327.1,368.0 L326.7,419.8"/><path d="M345.1,235.2 L345.1,261.5 L346.5,264.2 L348.5,266.4 L349.8,269.2 L351.8,271.6 L355.1,274.2 L356.3,278.3 L358.8,279.0 L361.1,280.2 L362.5,282.4 L363.0,285.0 L364.4,287.6 L366.6,289.6 L369.2,290.9 L372.0,291.7 L375.2,294.7 L378.7,297.4 L383.2,297.4 L383.2,305.2 L381.4,309.5 L380.9,314.2 L381.2,319.0 L378.7,323.1 L380.5,325.3 L382.1,327.6 L384.2,324.5 L387.7,323.1 L390.1,325.3 L393.3,325.4 L394.4,327.8 L396.7,329.2 L396.6,334.3 L400.3,337.4 L401.1,342.2 L404.0,345.6 L407.8,347.8 L410.6,350.8 L412.3,354.5 L419.1,354.5 L422.1,354.6 L424.6,352.9 L430.3,352.3 L432.2,349.6 L435.4,349.0 L438.3,350.6 L441.5,350.0 L440.0,350.0 L443.1,349.9 L445.5,351.7 L447.9,353.7 L451.0,353.3"/><path d="M174.2,420.2 L451.3,420.2"/><path d="M451.3,341.2 L598.8,341.2"/><path d="M451.3,355.2 L451.3,446.6 L641.0,446.6 L641.0,551.9"/><path d="M598.8,235.9 L598.8,446.6"/><path d="M598.8,316.5 L756.7,316.5"/><path d="M598.8,393.9 L713.3,394.3 L718.9,394.9 L720.9,396.9 L723.3,398.3 L736.7,397.7 L740.3,397.3 L743.6,398.7 L746.8,400.2 L750.0,401.7 L752.5,403.3 L755.0,405.0 L757.6,406.6 L760.0,408.3"/><path d="M743.3,235.7 L743.5,245.6 L743.9,250.7 L746.7,255.0 L747.4,260.0 L748.2,265.0 L749.5,269.9 L750.0,275.0 L749.5,287.0 L752.5,292.3 L753.3,298.3 L755.7,302.1 L756.4,306.4 L756.6,310.9 L755.0,315.0 L754.1,320.3 L753.4,322.9 L751.7,325.0 L754.9,326.3 L757.5,328.6 L759.3,331.6 L760.0,335.0 L760.0,379.7 L758.1,383.9 L756.7,388.3 L759.9,390.5 L760.9,394.3 L761.7,401.7 L761.7,405.2 L760.0,408.3"/><path d="M760.0,408.3 L760.1,409.0 L760.3,415.4 L762.1,418.1 L764.6,420.2 L765.2,427.4 L766.0,431.2 L769.1,433.6 L770.2,437.0 L772.2,440.0 L772.4,447.1 L770.7,450.2 L771.3,453.8 L771.9,456.3 L772.8,458.7 L775.3,459.6 L776.9,461.7 L777.9,464.3 L780.6,465.3 L782.8,466.9 L783.6,469.5 L785.0,472.0 L787.6,472.9 L789.1,475.1 L790.4,477.4 L790.5,480.3 L789.2,483.0 L791.9,485.4 L793.7,488.6 L794.6,492.1 L797.5,494.2 L798.0,562.8 L801.6,565.1 L801.6,594.0 L800.5,640.4"/><path d="M759.0,380.7 L869.2,380.7"/><path d="M772.4,456.1 L861.0,456.1 L861.8,459.0 L864.3,460.5 L863.9,463.1 L862.1,465.0"/><path d="M641.0,472.9 L783.0,472.9"/><path d="M388.3,551.9 L797.6,551.9"/><path d="M388.3,420.2 L388.3,575.6 L385.2,575.1 L382.5,576.8 L376.7,576.7 L374.0,579.5 L373.3,583.3 L373.9,587.9 L377.1,591.2 L376.7,600.0 L377.5,606.9 L380.1,609.6 L380.0,613.3 L380.1,619.6 L382.7,621.5 L384.3,624.3 L383.8,626.8 L382.9,629.2 L381.3,631.2 L380.0,633.3 L380.5,638.7 L378.7,640.8 L377.7,643.3 L378.3,653.3 L376.5,655.5 L374.7,657.7 L374.0,663.3 L372.5,665.6 L372.3,668.3"/><path d="M262.7,420.2 L262.7,499.2 L375.9,604.5"/><path d="M493.5,446.6 L493.5,701.2"/><path d="M621.0,551.9 L619.9,683.5"/><path d="M545.0,682.7 L620.0,682.7"/><path d="M621.0,565.1 L684.2,565.1 L684.2,616.1 L687.5,617.1 L690.3,619.1 L694.0,619.1 L696.7,621.7 L700.3,622.6 L703.0,625.1 L706.7,625.1 L710.0,626.7 L713.3,627.6 L716.8,627.7 L719.6,630.3 L723.3,630.0 L726.4,632.2 L730.1,631.4 L733.0,633.8 L736.7,633.3 L743.7,633.5 L747.5,633.9 L750.0,636.7 L754.5,635.9 L757.9,632.8 L766.7,633.3 L775.1,633.2 L779.5,634.0 L783.3,631.7 L786.1,634.0 L789.5,635.5 L796.7,635.0 L799.1,636.7 L801.7,638.3 L806.6,639.0 L809.8,642.7 L809.8,683.5 L811.2,686.1 L813.6,687.7 L813.3,693.3 L813.3,697.0 L814.8,700.4 L816.4,703.6 L818.3,706.7 L817.0,709.8 L816.5,713.2 L816.7,720.0 L816.3,723.7 L813.7,726.4 L814.3,729.9 L815.0,733.3 L816.3,737.9 L816.0,742.7"/><path d="M798.0,563.7 L890.1,564.8 L892.4,567.0 L893.5,571.5 L890.1,574.9 L886.8,578.3 L899.1,578.3"/><path d="M809.8,656.7 L870.3,657.2"/><path d="M847.9,296.1 L846.6,300.0 L845.7,304.0 L843.0,306.0 L841.7,309.2 L840.9,312.5 L839.0,315.2 L836.4,317.1 L834.5,319.7 L832.8,322.9 L833.4,326.4 L833.8,330.4 L836.7,333.1 L837.1,336.7 L835.6,339.9 L836.7,344.6 L839.0,348.8 L842.1,351.4 L845.7,353.3 L849.1,355.6 L852.4,357.8 L854.9,361.4 L859.1,362.3 L862.4,365.7 L865.9,369.0 L867.8,373.4 L869.2,378.0 L869.0,381.8 L871.5,384.7 L870.5,388.0 L870.4,391.4 L872.3,395.7 L872.6,400.4 L875.1,401.7 L877.6,403.0 L880.4,404.3 L881.6,407.1 L883.6,409.6 L886.1,411.6 L886.9,414.1 L888.7,416.1 L890.1,413.5 L891.5,417.9 L892.4,422.4 L888.9,425.7 L887.9,430.3 L881.1,429.8 L878.3,431.6 L875.6,433.6 L873.3,436.7 L872.2,440.4 L874.5,443.3 L874.4,447.1 L874.1,451.1 L871.1,453.8 L866.7,454.9 L864.3,458.7 L863.8,462.1 L862.1,465.0 L864.4,469.2 L864.3,474.0 L864.6,477.0 L866.1,479.6 L869.2,480.5 L871.1,483.0 L873.6,484.5 L875.1,486.9 L877.0,489.2 L877.8,491.9 L881.2,495.1 L881.2,499.8 L885.1,501.0 L889.0,502.0 L891.2,504.5 L892.4,507.6 L892.1,510.2 L890.6,512.3 L890.0,514.9 L887.9,516.6 L890.4,519.5 L890.1,523.3 L891.0,526.0 L893.0,528.0 L895.4,529.1 L898.0,530.0 L900.6,530.5 L902.5,532.3 L904.3,534.2 L904.7,536.8 L907.0,540.4 L908.1,544.6 L910.6,546.2 L911.4,549.1 L914.8,552.5 L913.3,556.8 L910.3,560.3 L908.7,563.1 L905.8,564.8 L905.2,569.2 L902.5,572.6 L900.9,575.9 L900.2,579.4 L898.7,582.8 L896.9,586.1 L895.3,589.5 L893.5,592.8 L892.8,596.4 L891.3,599.8 L891.7,596.7 L889.7,598.8 L889.0,601.6 L888.3,604.3 L886.7,606.7 L886.1,611.3 L885.4,615.8 L883.1,619.9 L880.0,623.3 L878.1,627.1 L874.2,629.0 L871.7,632.4 L871.7,636.7 L873.1,639.9 L874.7,643.1 L874.2,646.6 L873.3,650.0 L873.2,653.6 L875.3,656.5 L875.0,663.3 L874.1,667.0 L871.3,669.6 L870.7,673.1 L870.0,676.7 L869.9,679.5 L867.8,681.5 L868.2,684.3 L866.7,686.7 L864.5,689.6 L863.6,693.1 L862.7,696.6 L861.7,700.0 L861.4,703.7 L860.7,707.3 L901.0,707.3 L901.8,712.0 L902.7,716.7 L902.0,720.3 L900.0,723.3 L902.2,726.7 L906.0,728.0"/><path d="M887.8,300.0 L891.4,302.6 L895.0,305.1 L897.9,307.5 L901.6,307.9 L904.7,309.9 L908.5,309.6 L912.4,311.3 L915.7,314.0 L924.2,314.1 L928.2,317.0 L933.1,316.3 L935.6,319.0 L937.6,321.9 L939.3,325.1 L939.9,328.7 L941.8,330.5 L942.1,333.1 L943.8,335.4 L945.5,337.6"/><path d="M881.5,407.1 L941.3,407.1"/><path d="M954.0,426.6 L1004.1,426.6 L1033.0,427.3"/><path d="M947.3,428.0 L947.3,489.7 L945.1,492.8 L943.9,496.4 L945.4,498.5 L947.2,500.3 L947.3,505.4 L945.0,506.8 L943.7,509.2 L942.8,514.3 L940.5,518.2 L938.3,522.2 L936.3,525.4 L935.0,528.9"/><path d="M1004.1,426.6 L1004.1,496.6"/><path d="M911.4,549.1 L913.8,546.7 L917.0,545.7 L921.1,546.5 L924.9,548.0 L926.2,544.0 L929.4,541.3 L932.5,538.7 L936.1,536.8 L935.8,532.8 L935.0,528.9 L939.0,528.9 L942.8,527.8 L947.7,528.5 L951.8,531.2 L954.9,529.1 L958.5,527.8 L954.5,530.0 L950.0,529.7 L953.5,530.1 L956.7,528.6 L959.7,525.7 L963.5,524.1 L967.9,523.7 L971.3,520.7 L975.1,520.6 L978.0,523.0 L979.4,518.4 L983.6,516.2 L985.0,513.8 L986.7,511.5 L989.0,509.8 L990.4,507.3 L994.1,507.2 L997.1,505.0 L1000.7,501.7 L1004.3,498.3 L1007.3,497.2 L1010.5,497.2 L1013.4,500.6 L1017.3,502.8 L1021.8,504.3 L1026.2,506.1 L1030.8,505.7 L1035.2,507.3 L1039.6,506.0 L1044.2,506.1 L1048.5,508.3 L1049.8,512.9 L1050.9,517.4 L1051.6,514.4 L1054.1,512.7 L1054.0,509.8 L1055.4,507.3 L1058.0,504.1 L1059.9,500.5 L1063.6,497.5 L1066.6,493.8 L1070.8,491.4 L1074.4,488.2 L1078.7,485.9 L1082.3,482.6 L1086.0,480.0 L1087.9,475.9 L1090.4,474.7 L1091.3,472.0 L1091.3,466.9 L1091.7,456.8 L1094.6,454.6"/><path d="M1094.8,420.2 L1094.8,480.3"/><path d="M1094.8,480.3 L1194.4,480.3 L1196.4,477.8 L1198.9,475.9 L1202.2,478.1"/><path d="M1110.8,413.1 L1110.8,420.2 L1203.7,420.2 L1205.3,423.3 L1207.6,425.9 L1211.3,428.3 L1212.1,432.6 L1214.2,434.6 L1215.5,437.1 L1214.1,439.5 L1213.8,442.3 L1211.5,443.9 L1209.9,446.1 L1207.2,450.2 L1207.6,455.1 L1207.1,449.4 L1208.5,446.9 L1210.3,444.7 L1210.5,449.8 L1209.2,452.2 L1207.0,453.6 L1209.2,457.0 L1211.4,460.4 L1215.6,462.6 L1217.0,467.1 L1215.0,470.6 L1211.4,472.7 L1207.8,474.5 L1204.7,477.2 L1201.8,478.7 L1199.1,480.5"/><path d="M1215.5,437.1 L1220.4,439.0 L1225.7,439.0 L1231.0,440.7 L1234.3,445.0"/><path d="M1050.9,517.4 L1050.6,520.8 L1049.8,524.1 L1051.4,526.9 L1053.1,529.7 L1055.6,533.6 L1059.9,535.3 L1062.7,536.9 L1064.3,539.8 L1063.3,542.5 L1060.5,543.7 L1058.3,545.4 L1055.4,545.4 L1054.6,548.4 L1052.2,550.5 L1049.3,551.3 L1046.4,552.1 L1042.1,552.9 L1039.7,556.6 L1036.0,557.7 L1033.0,560.0 L1030.8,561.3 L1028.5,562.2"/><path d="M1064.3,539.8 L1066.6,542.0 L1070.3,543.0 L1073.3,545.4 L1076.7,544.2 L1080.0,543.1 L1083.2,541.3 L1086.8,542.0 L1089.9,539.9 L1093.5,538.7 L1095.7,535.9 L1099.1,535.3 L1100.5,530.7 L1104.7,528.6 L1104.7,524.8 L1106.9,521.8 L1108.7,518.6 L1111.4,516.2 L1113.2,513.7 L1113.7,510.6 L1117.3,509.8 L1120.4,511.7 L1122.3,509.0 L1125.4,507.8 L1128.0,505.8 L1129.4,502.8 L1131.1,500.6 L1133.6,499.6 L1135.5,497.6 L1136.1,494.9 L1139.0,492.0 L1140.6,488.2 L1144.6,488.6 L1147.3,491.6 L1150.5,490.7 L1153.8,490.4 L1156.8,493.9 L1160.8,496.1 L1161.3,501.4 L1163.8,502.6 L1165.2,505.0 L1165.4,508.5 L1164.1,511.7 L1166.8,515.4 L1170.9,517.4 L1173.0,520.2 L1176.5,520.7 L1180.5,520.8 L1183.6,523.4"/><path d="M1114.8,478.6 L1114.8,492.7 L1118.4,491.4 L1120.4,488.2 L1122.6,487.1 L1124.7,485.6 L1127.3,485.4 L1129.4,483.7 L1134.1,483.8 L1138.3,486.0 L1141.7,485.5 L1145.1,484.8 L1147.7,487.9 L1150.7,490.4 L1153.8,490.4"/><path d="M1196.6,478.6 L1196.6,511.7 L1210.1,511.7"/><path d="M907.0,565.9 L937.2,565.9 L936.5,563.2 L935.7,560.5 L950.0,561.1 L1028.5,562.9 L1191.0,562.9"/><path d="M1070.4,562.9 L1069.4,566.1 L1066.6,567.8 L1065.1,570.4 L1062.4,571.5 L1059.7,572.5 L1057.6,574.5 L1053.1,575.6 L1048.7,576.8 L1048.1,580.0 L1045.5,581.9 L1042.4,582.1 L1039.7,583.5 L1037.4,585.2 L1036.1,587.7 L1033.3,588.1 L1030.7,589.1 L1028.0,589.8 L1026.2,591.9 L1023.9,593.1 L1021.7,594.7 L1018.8,596.2 L1016.1,598.1 L1015.0,602.6"/><path d="M888.6,605.3 L1040.2,605.3"/><path d="M1035.2,604.8 L1037.1,602.6 L1039.7,601.4 L1042.3,599.9 L1045.3,600.1 L1048.3,600.2 L1050.9,598.7 L1084.5,599.2 L1088.1,601.9 L1090.1,605.9 L1093.5,609.3 L1115.9,610.0 L1136.3,632.2"/><path d="M1034.8,610.1 L1036.7,612.4 L1036.5,615.4 L1038.7,617.2 L1041.5,617.9 L1042.3,620.8 L1044.9,622.4 L1046.7,624.5 L1048.2,626.9 L1049.6,629.5 L1049.4,632.4 L1050.8,635.1 L1053.8,635.9 L1056.5,637.4 L1058.1,640.1 L1060.2,642.2 L1061.7,644.8 L1064.4,646.6 L1065.1,649.8 L1067.5,651.6 L1069.5,653.8 L1072.5,654.6 L1074.2,657.1 L1075.1,662.8 L1077.3,664.3 L1078.7,666.6 L1079.6,671.7 L1080.4,674.4 L1082.3,676.5 L1083.0,681.8"/><path d="M934.3,602.7 L926.0,700.0 L928.3,729.3"/><path d="M987.7,602.7 L996.7,657.7 L997.1,666.2 L1000.5,669.0 L1001.7,673.3 L1001.0,676.6 L1000.2,679.9 L999.3,686.7 L999.2,690.2 L998.3,693.7 L1000.1,696.8 L1001.7,700.0 L1000.8,703.6 L1000.3,707.3 L1002.2,711.0 L1003.3,715.0 L1059.4,722.2 L1059.3,725.1 L1061.0,727.4 L1062.8,725.1 L1063.7,722.3 L1062.8,716.6 L1067.3,714.8 L1074.0,715.5"/><path d="M1000.3,708.3 L945.7,708.3 L946.3,711.2 L948.8,712.9 L948.3,718.3 L949.7,720.9 L952.0,722.7 L952.7,728.3"/><path d="M1246.0,340.5 L1244.6,354.2 L1243.5,365.4 L1245.7,372.1 L1246.9,381.1 L1246.9,399.0 L1243.5,417.0 L1240.8,439.4 L1237.9,446.1"/><path d="M1284.3,340.3 L1279.4,354.2 L1273.8,358.7 L1270.4,372.1 L1267.0,385.6 L1264.8,400.1"/><path d="M1294.6,331.3 L1295.5,349.7 L1296.9,372.1 L1299.1,390.0 L1301.8,394.5"/><path d="M1246.9,399.5 L1287.2,402.4 L1292.8,397.9 L1299.6,395.0"/><path d="M1243.5,417.8 L1288.3,418.7 L1289.5,425.9 L1292.8,430.9"/><path d="M1278.5,418.3 L1279.4,437.1"/>
<path d="M1197.2,480.4 L1197.5,485.2 L1194.9,489.3 L1194.0,495.0 L1192.7,497.6 L1192.7,500.5 L1192.2,506.2 L1192.5,509.2 L1193.8,511.7 L1193.0,516.3 L1191.6,520.7 L1189.3,524.9 L1189.3,529.7 L1189.8,534.2 L1190.4,538.7 L1191.3,543.4 L1188.9,547.6"/><path d="M1188.2,484.8 L1186.2,489.2 L1184.8,493.8 L1185.2,499.7 L1182.8,501.8 L1182.6,505.0 L1180.4,509.3 L1181.5,514.0 L1182.7,518.4 L1183.7,523.0 L1184.2,527.6 L1186.0,531.9 L1188.2,534.8 L1188.8,538.4 L1188.2,545.4 L1187.7,549.0 L1186.0,552.1 L1187.9,554.2 L1190.4,555.5"/><path d="M1188.2,545.4 L1185.5,542.5 L1184.8,538.7 L1181.7,536.1 L1178.1,534.2 L1174.1,532.9 L1171.4,529.7 L1172.9,527.7 L1173.6,525.2 L1171.7,521.6 L1169.1,518.5 L1165.0,516.6 L1161.3,514.0"/><path d="M1169.1,544.3 L1174.6,543.9 L1176.3,541.8 L1178.1,539.8 L1182.7,540.1 L1187.1,538.7"/><path d="M1173.6,549.9 L1178.6,550.6 L1182.6,547.6 L1187.1,548.7"/><path d="M1177.0,557.0 L1181.6,556.4 L1184.8,553.2 L1187.8,554.0 L1190.4,555.5"/><path d="M1190.4,496.1 L1188.4,498.4 L1188.3,501.5 L1188.2,507.3 L1188.9,509.9 L1191.2,511.3 L1190.4,516.2 L1188.1,520.4 L1188.2,525.2"/><path d="M1173.6,570.0 L1176.9,571.7 L1179.2,574.5 L1183.2,573.7 L1187.1,572.3 L1189.4,574.6 L1192.7,574.5 L1196.1,572.3"/><path d="M1179.2,574.5 L1179.0,577.7 L1177.0,580.1 L1179.3,582.6 L1182.6,583.5"/><path d="M1166.9,594.7 L1171.2,592.7 L1175.9,592.5 L1178.1,590.8 L1180.2,588.9 L1182.0,586.5 L1184.8,585.7 L1188.2,584.6 L1191.6,583.5 L1195.0,582.9 L1197.2,580.1"/><path d="M1184.8,585.7 L1185.5,589.2 L1188.2,591.3 L1187.4,594.3 L1186.0,597.0"/><path d="M1162.4,605.9 L1167.4,605.5 L1171.4,602.6 L1175.6,602.7 L1179.2,604.8 L1177.2,606.6 L1177.0,609.3"/><path d="M934.5,714.7 L935.2,721.4 L936.0,725.0 L936.8,728.6"/><path d="M940.1,715.8 L939.2,723.6 L939.8,726.6 L938.1,729.0"/><path d="M886.3,729.9 L887.5,727.5 L889.7,725.9 L893.2,725.2 L896.4,727.0 L898.3,729.6 L900.9,731.5 L900.3,734.0 L898.7,736.0 L891.9,736.6 L889.8,735.0 L887.4,733.9 L886.3,729.9"/><path d="M900.9,731.5 L903.5,731.1 L905.4,729.2 L908.0,729.1 L910.3,730.4"/><path d="M852.9,742.0 L855.6,739.8 L858.7,742.9"/><path d="M755.7,775.7 L759.5,772.6 L764.3,771.4 L767.6,769.4 L771.4,769.4"/><path d="M748.6,782.0 L751.9,780.1 L754.3,777.1 L757.7,779.1"/><path d="M1233.5,447.8 L1240.7,448.5 L1243.3,445.8 L1246.9,444.9 L1253.9,445.4 L1257.2,444.0 L1260.4,442.5 L1264.7,443.2 L1269.2,443.5 L1273.2,441.6 L1277.4,440.2"/>
<path d="M1225.4,459.1 L1227.2,455.7 L1230.8,454.6 L1233.0,452.1 L1236.1,451.0 L1241.8,450.6 L1244.0,448.7 L1246.9,448.3 L1252.7,448.7 L1254.9,446.6 L1257.7,445.6 L1260.0,443.8 L1262.6,442.3 L1265.7,442.0 L1268.4,443.4 L1277.4,442.5 L1278.3,445.2 L1274.7,448.0 L1270.2,447.4 L1267.7,448.7 L1265.1,449.8 L1259.5,450.1 L1256.5,450.8 L1254.5,453.1 L1248.7,453.2 L1245.9,454.2 L1243.6,456.0 L1237.9,456.8 L1234.2,459.4 L1229.9,460.9 L1226.3,461.7Z"/>
</g>
<g fill="none" stroke="#000" stroke-width="5.5" stroke-linejoin="round" stroke-linecap="round">
<path d="M959.6,325.3 L952.9,334.3 L946.1,343.2 L940.3,351.1"/><path d="M1305.7,427.0 L1309.7,427.3 L1314.2,426.6 L1317.0,424.5 L1317.8,420.9 L1315.2,417.6 L1311.9,416.9"/>
</g>
<path d="M910.3,263.6 L914.8,260.5 L921.9,257.4 L928.0,255.1 L929.6,258.7 L923.7,262.7 L917.0,266.3 L912.1,268.1Z" fill="#4d4d4d"/><path d="M925.3,256.5 L928.2,255.6 L928.7,258.3 L926.4,259.1Z" fill="#f76666"/><path d="M1042.9,877.7 L1044.6,877.7 L1044.6,878.9 L1042.9,878.9Z" fill="#aaf5df"/><path d="M1058.6,877.1 L1064.9,877.1 L1064.9,878.9 L1058.6,878.9Z" fill="#aaf5df"/><path d="M1068.6,875.1 L1077.1,875.1 L1077.1,877.1 L1068.6,877.1Z" fill="#aaf5df"/><path d="M1080.0,872.9 L1088.0,872.9 L1088.0,874.9 L1080.0,874.9Z" fill="#aaf5df"/><path d="M1090.0,868.6 L1095.7,868.6 L1095.7,870.9 L1090.0,870.9Z" fill="#aaf5df"/><path d="M1095.7,864.3 L1098.6,864.3 L1098.6,866.6 L1095.7,866.6Z" fill="#8fe6d0"/><path d="M253.3,628.3 L263.3,628.3 L263.3,631.0 L253.3,631.0Z" fill="#f59999"/><path d="M264.0,629.3 L273.3,629.3 L273.3,631.7 L264.0,631.7Z" fill="#f76666"/><path d="M270.7,650.7 L273.7,650.7 L273.7,653.7 L270.7,653.7Z" fill="#998508"/><path d="M282.7,644.0 L284.7,644.0 L284.7,646.0 L282.7,646.0Z" fill="#ffff00"/><path d="M291.3,645.3 L296.0,645.3 L296.0,648.3 L291.3,648.3Z" fill="#55cf0a"/><path d="M291.3,656.7 L296.0,656.7 L296.0,660.7 L291.3,660.7Z" fill="#ffff00"/><path d="M985.2,319.3 L991.9,319.3 L991.9,324.9 L985.2,324.9Z" fill="#f59999"/><path d="M980.7,327.2 L985.2,327.2 L985.2,331.7 L980.7,331.7Z" fill="#f59999"/><path d="M975.1,336.1 L979.6,336.1 L979.6,341.7 L975.1,341.7Z" fill="#f59999"/><path d="M1023.3,311.3 L1032.3,311.3 L1032.3,316.3 L1023.3,316.3Z" fill="#f59999"/><path d="M1013.2,300.0 L1020.0,300.0 L1020.0,304.5 L1013.2,304.5Z" fill="#f59999"/><path d="M960.5,328.3 L963.9,328.3 L963.9,330.5 L960.5,330.5Z" fill="#f76666"/>
<g fill="#000" stroke="#000" stroke-width="2" stroke-linejoin="round">
<path d="M204.3,235.1 L211.1,239.6 L213.3,244.1 L212.2,250.8 L215.6,258.6 L217.8,262.0 L215.6,269.9 L216.1,277.7 L213.3,284.4 L207.7,287.8 L202.1,288.9 L197.6,285.6 L195.9,278.8 L197.6,272.1 L202.1,266.5 L203.2,258.6 L204.3,251.9 L199.9,251.4 L195.9,248.6 L195.4,245.2 L198.7,241.8 L203.2,240.7Z"/><path d="M208.7,521.1 L217.3,522.2 L218.4,527.8 L221.7,534.5 L222.9,540.1 L217.3,540.1 L213.9,534.5 L210.5,530.0 L207.2,525.6Z"/><path d="M987.0,335.4 L990.3,334.3 L991.9,339.9 L991.4,346.6 L988.1,347.7 L986.5,342.1Z"/><path d="M1044.8,786.9 L1050.0,786.0 L1055.2,789.8 L1056.1,795.4 L1052.9,800.3 L1047.8,799.4 L1044.8,794.3Z"/><path d="M1057.8,815.6 L1062.3,815.1 L1063.7,820.0 L1060.1,822.7 L1057.4,819.6Z"/><path d="M790.0,742.9 L796.6,741.4 L797.7,748.6 L793.1,752.3 L789.7,748.6Z"/><path d="M730.0,803.7 L738.6,802.9 L740.0,808.6 L732.9,810.6Z"/><path d="M1082.9,858.0 L1089.1,859.1 L1088.6,864.9 L1082.3,864.3Z"/><path d="M1298.5,435.7 L1302.5,434.4 L1307.4,434.8 L1307.9,437.5 L1304.3,439.1 L1299.8,438.9Z"/><path d="M1311.0,437.1 L1314.2,435.6 L1318.2,436.6 L1318.7,439.8 L1315.1,441.6 L1311.5,440.2Z"/><path d="M1297.1,432.2 L1300.7,431.3 L1301.2,433.0 L1298.0,433.9Z"/>
</g>
<text class="t1" x="773.5" y="56.7">Japanese pine sawyer beetle: Avg date of OW gen. pupal</text>
<text class="t1" x="773.5" y="96.8">development w/ climate stress exclusion 2026</text>
<text class="t2" x="773.5" y="147.9">Maps and modeling 01/06/2026 by Oregon State University IPPC USPEST.ORG and</text>
<text class="t2" x="773.8" y="180.9">USDA-APHIS-PPQ; climate data from OSU PRISM Climate Group</text>
<text class="lt" x="1423" y="337">Avg date of</text>
<text class="lt" x="1423" y="365">OW gen. pupal</text>
<text class="lt" x="1423" y="393">development</text>
<rect x="1423.5" y="407.00" width="25.5" height="25.83" fill="#4d4d4d"/><text x="1459.9" y="427.00" class="lb">excl.-sev.</text><rect x="1423.5" y="432.53" width="25.5" height="25.83" fill="#aaf5df"/><text x="1459.9" y="452.53" class="lb">Feb-01</text><rect x="1423.5" y="458.06" width="25.5" height="25.83" fill="#8fe6d0"/><text x="1459.9" y="478.06" class="lb">Feb-09</text><rect x="1423.5" y="483.59" width="25.5" height="25.83" fill="#72d4c2"/><text x="1459.9" y="503.59" class="lb">Feb-15</text><rect x="1423.5" y="509.12" width="25.5" height="25.83" fill="#55c2b4"/><text x="1459.9" y="529.12" class="lb">Feb-22</text><rect x="1423.5" y="534.65" width="25.5" height="25.83" fill="#b7ffbf"/><text x="1459.9" y="554.65" class="lb">Mar-01</text><rect x="1423.5" y="560.18" width="25.5" height="25.83" fill="#8fd396"/><text x="1459.9" y="580.18" class="lb">Mar-08</text><rect x="1423.5" y="585.71" width="25.5" height="25.83" fill="#67a86d"/><text x="1459.9" y="605.71" class="lb">Mar-15</text><rect x="1423.5" y="611.24" width="25.5" height="25.83" fill="#3f7d44"/><text x="1459.9" y="631.24" class="lb">Mar-22</text><rect x="1423.5" y="636.77" width="25.5" height="25.83" fill="#17521b"/><text x="1459.9" y="656.77" class="lb">Mar-29</text><rect x="1423.5" y="662.30" width="25.5" height="25.83" fill="#ccff00"/><text x="1459.9" y="682.30" class="lb">Apr-05</text><rect x="1423.5" y="687.83" width="25.5" height="25.83" fill="#a6ef00"/><text x="1459.9" y="707.83" class="lb">Apr-12</text><rect x="1423.5" y="713.36" width="25.5" height="25.83" fill="#7fdf05"/><text x="1459.9" y="733.36" class="lb">Apr-19</text><rect x="1423.5" y="738.89" width="25.5" height="25.83" fill="#55cf0a"/><text x="1459.9" y="758.89" class="lb">Apr-26</text><rect x="1423.5" y="764.42" width="25.5" height="25.83" fill="#ffff00"/><text x="1459.9" y="784.42" class="lb">May-03</text><rect x="1571" y="407.00" width="25.5" height="25.83" fill="#ddd700"/><text x="1607.4" y="427.00" class="lb">May-10</text><rect x="1571" y="432.53" width="25.5" height="25.83" fill="#bbaf04"/><text x="1607.4" y="452.53" class="lb">May-17</text><rect x="1571" y="458.06" width="25.5" height="25.83" fill="#998508"/><text x="1607.4" y="478.06" class="lb">May-24</text><rect x="1571" y="483.59" width="25.5" height="25.83" fill="#775d0a"/><text x="1607.4" y="503.59" class="lb">May-31</text><rect x="1571" y="509.12" width="25.5" height="25.83" fill="#fdd48e"/><text x="1607.4" y="529.12" class="lb">Jun-07</text><rect x="1571" y="534.65" width="25.5" height="25.83" fill="#fdbf72"/><text x="1607.4" y="554.65" class="lb">Jun-14</text><rect x="1571" y="560.18" width="25.5" height="25.83" fill="#fdaa55"/><text x="1607.4" y="580.18" class="lb">Jun-21</text><rect x="1571" y="585.71" width="25.5" height="25.83" fill="#fd9533"/><text x="1607.4" y="605.71" class="lb">Jun-28</text><rect x="1571" y="611.24" width="25.5" height="25.83" fill="#f4cccc"/><text x="1607.4" y="631.24" class="lb">Jul-05</text><rect x="1571" y="636.77" width="25.5" height="25.83" fill="#f59999"/><text x="1607.4" y="656.77" class="lb">Jul-12</text><rect x="1571" y="662.30" width="25.5" height="25.83" fill="#f76666"/><text x="1607.4" y="682.30" class="lb">Jul-19</text><rect x="1571" y="687.83" width="25.5" height="25.83" fill="#fc3333"/><text x="1607.4" y="707.83" class="lb">Jul-26</text><rect x="1571" y="713.36" width="25.5" height="25.83" fill="#e6b8af"/><text x="1607.4" y="733.36" class="lb">Aug-02</text><rect x="1571" y="738.89" width="25.5" height="25.83" fill="#cb8f85"/><text x="1607.4" y="758.89" class="lb">Aug-09</text><rect x="1571" y="764.42" width="25.5" height="25.83" fill="#b1695b"/><text x="1607.4" y="784.42" class="lb">Aug-16</text><rect x="1698" y="407.00" width="25.5" height="25.83" fill="#994433"/><text x="1734.4" y="427.00" class="lb">Aug-23</text><rect x="1698" y="432.53" width="25.5" height="25.83" fill="#85200c"/><text x="1734.4" y="452.53" class="lb">Aug-30</text><rect x="1698" y="458.06" width="25.5" height="25.83" fill="#ffb0dc"/><text x="1734.4" y="478.06" class="lb">Sep-06</text><rect x="1698" y="483.59" width="25.5" height="25.83" fill="#ff80e0"/><text x="1734.4" y="503.59" class="lb">Sep-13</text><rect x="1698" y="509.12" width="25.5" height="25.83" fill="#ff55e8"/><text x="1734.4" y="529.12" class="lb">Sep-21</text><rect x="1698" y="534.65" width="25.5" height="25.83" fill="#ff2af5"/><text x="1734.4" y="554.65" class="lb">Sep-27</text><rect x="1698" y="560.18" width="25.5" height="25.83" fill="#e1bee7"/><text x="1734.4" y="580.18" class="lb">Oct-04</text><rect x="1698" y="585.71" width="25.5" height="25.83" fill="#c894d6"/><text x="1734.4" y="605.71" class="lb">Oct-12</text><rect x="1698" y="611.24" width="25.5" height="25.83" fill="#b36cc8"/><text x="1734.4" y="631.24" class="lb">Oct-19</text><rect x="1698" y="636.77" width="25.5" height="25.83" fill="#9f46ba"/><text x="1734.4" y="656.77" class="lb">Oct-26</text><rect x="1698" y="662.30" width="25.5" height="25.83" fill="#b3ecff"/><text x="1734.4" y="682.30" class="lb">Nov-03</text><rect x="1698" y="687.83" width="25.5" height="25.83" fill="#84d2f0"/><text x="1734.4" y="707.83" class="lb">Nov-08</text><rect x="1698" y="713.36" width="25.5" height="25.83" fill="#58b9e4"/><text x="1734.4" y="733.36" class="lb">Nov-17</text><rect x="1698" y="738.89" width="25.5" height="25.83" fill="#2da1da"/><text x="1734.4" y="758.89" class="lb">Nov-24</text><rect x="1698" y="764.42" width="25.5" height="25.83" fill="#9fc5e8"/><text x="1734.4" y="784.42" class="lb">Dec-03</text><rect x="1823" y="407.00" width="25.5" height="25.83" fill="#7a8eeb"/><text x="1859.4" y="427.00" class="lb">Dec-06</text><rect x="1823" y="432.53" width="25.5" height="25.83" fill="#5560f5"/><text x="1859.4" y="452.53" class="lb">Dec-16</text>
</svg>
</body></html>
